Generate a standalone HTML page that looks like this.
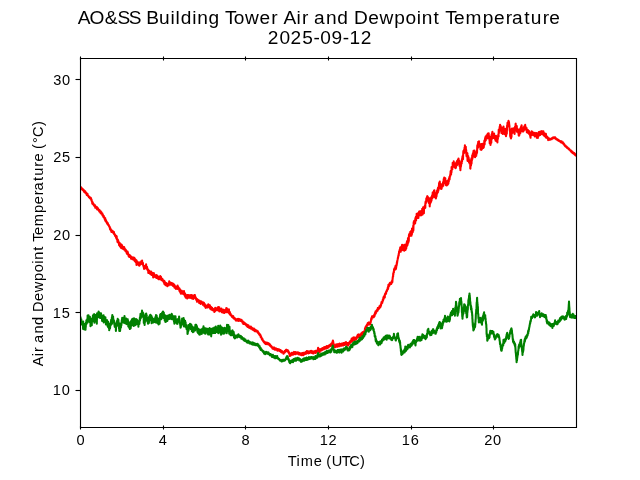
<!DOCTYPE html>
<html><head><meta charset="utf-8"><title>AO&amp;SS Building Tower Air and Dewpoint Temperature</title><style>html,body{margin:0;padding:0;background:#fff;width:640px;height:480px;overflow:hidden}svg{display:block;will-change:transform}</style></head><body>
<svg width="640" height="480" viewBox="0 0 640 480">
<rect width="640" height="480" fill="#fff"/>
<defs><clipPath id="c"><rect x="80" y="57.6" width="496" height="369.6"/></clipPath></defs>
<g clip-path="url(#c)" fill="none" stroke-width="2.08" stroke-linejoin="round" stroke-linecap="square">
<polyline stroke="#ff0000" points="80,189.08 80.1,187.98 80.2,188.04 80.3,187.78 80.4,188.76 80.5,187.19 80.6,189.23 80.7,187.99 80.8,188.55 80.9,188.28 81,189.15 81.1,187.4 81.2,188.28 81.3,188.27 81.4,189.04 81.5,187.94 81.6,188.41 81.7,188.15 81.8,188.71 81.9,189.07 82,188.32 82.1,189.53 82.2,189.5 82.3,189.4 82.4,189.69 82.5,188.99 82.6,189.36 82.7,189.05 82.8,189.47 82.9,189.96 83,189.44 83.1,189.68 83.2,189.63 83.3,189.64 83.4,189.82 83.5,190.24 83.6,189.78 83.7,190.55 83.8,191.36 83.9,190.99 84,190.61 84.1,190.36 84.2,190.52 84.3,191.83 84.4,191.1 84.5,190.85 84.6,191.36 84.7,192.41 84.8,191.51 84.9,191.85 85,191.78 85.1,191.55 85.2,191.24 85.3,191.73 85.4,191.9 85.5,192.43 85.6,192.69 85.7,192.88 85.8,192.69 85.9,193.13 86,192.45 86.1,193.59 86.2,193.35 86.3,193.08 86.4,193.62 86.5,193.47 86.6,194.21 86.7,194.54 86.8,195.01 86.9,193.36 87,193.47 87.1,194.08 87.2,194.55 87.3,195.04 87.4,194.9 87.5,193.87 87.6,194.86 87.7,195.57 87.8,195.41 87.9,195.81 88,195.45 88.1,195.6 88.2,195.93 88.3,196.18 88.4,196.21 88.5,196.31 88.6,196.01 88.7,196.64 88.8,196.61 88.9,197.21 89,197.35 89.1,196.94 89.2,196.76 89.3,196.73 89.4,197.36 89.5,197.29 89.6,197.18 89.7,197.47 89.8,197.24 89.9,198 90,197.53 90.1,198.46 90.2,198.15 90.3,198.35 90.4,197.6 90.5,198.33 90.6,198.72 90.7,197.97 90.8,198.42 90.9,198.67 91,198.06 91.1,199.21 91.2,199.77 91.3,199.22 91.4,200.13 91.5,199.59 91.6,200.53 91.7,200.04 91.8,201.71 91.9,201.65 92,201.74 92.1,201.66 92.2,202.99 92.3,203.56 92.4,201.8 92.5,203.49 92.6,203.84 92.7,203.34 92.8,202.73 92.9,203.91 93,203.53 93.1,203.47 93.2,203.31 93.3,204.35 93.4,204.62 93.5,204.06 93.6,204.79 93.7,204.1 93.8,205.23 93.9,205 94,205.03 94.1,205.22 94.2,205.86 94.3,205.95 94.4,205.99 94.5,205.94 94.6,206.06 94.7,206.48 94.8,206.41 94.9,206.71 95,206.29 95.1,205.31 95.2,207.13 95.3,207.78 95.4,206.99 95.5,206.8 95.6,206.86 95.7,206.94 95.8,207.09 95.9,206.6 96,206.98 96.1,206.82 96.2,207.53 96.3,207.33 96.4,207.81 96.5,207.55 96.6,208.21 96.7,207.9 96.8,208.97 96.9,207.01 97,207.71 97.1,208.57 97.2,209.46 97.3,208.15 97.4,208.38 97.5,208.32 97.6,209.18 97.7,208.45 97.8,209.01 97.9,208.59 98,208.24 98.1,209.16 98.2,209.38 98.3,209.9 98.4,209.32 98.5,209.2 98.6,209.91 98.7,209.88 98.8,210.02 98.9,209.97 99,210.72 99.1,210.45 99.2,211.34 99.3,211.07 99.4,210.97 99.5,209.95 99.6,211.19 99.7,211.23 99.8,211.55 99.9,211.79 100,211.2 100.1,211.93 100.2,211.37 100.3,212.75 100.4,211.23 100.5,211.12 100.6,211.27 100.7,211.75 100.8,211.74 100.9,213.38 101,212.34 101.1,211.93 101.2,213.26 101.3,212.51 101.4,212.28 101.5,213.44 101.6,213.41 101.7,212.98 101.8,214 101.9,213.46 102,214.31 102.1,213.85 102.2,214.48 102.3,213.9 102.4,213.44 102.5,215.47 102.6,214.18 102.7,214.55 102.8,214.5 102.9,214.95 103,215.37 103.1,215.55 103.2,215.98 103.3,216.75 103.4,215.99 103.5,215.63 103.6,215.86 103.7,216.32 103.8,216.01 103.9,217.46 104,217 104.1,217.29 104.2,217.65 104.3,217.15 104.4,217.62 104.5,218.59 104.6,218.76 104.7,218.43 104.8,219.74 104.9,218.35 105,218.99 105.1,219.22 105.2,218.1 105.3,220.64 105.4,220.02 105.5,219.48 105.6,221.19 105.7,220.63 105.8,220.71 105.9,220.36 106,220.89 106.1,220.24 106.2,221.56 106.3,221.15 106.4,221.57 106.5,222.27 106.6,221.98 106.7,222.13 106.8,222.3 106.9,221.97 107,222.92 107.1,223.44 107.2,223.21 107.3,223.44 107.4,222.73 107.5,222.9 107.6,222.78 107.7,224.28 107.8,223.71 107.9,224.7 108,223.78 108.1,224.11 108.2,224.55 108.3,225.13 108.4,224.86 108.5,225.11 108.6,225.21 108.7,225.49 108.8,225.04 108.9,225.84 109,225.91 109.1,226.17 109.2,226.65 109.3,226.26 109.4,226.76 109.5,226.85 109.6,227.41 109.7,227.79 109.8,227.12 109.9,228.09 110,229.03 110.1,227.46 110.2,227.98 110.3,228.16 110.4,228.66 110.5,229.81 110.6,229.21 110.7,229.05 110.8,229.91 110.9,229.5 111,230.56 111.1,230.25 111.2,230.89 111.3,229.97 111.4,231.92 111.5,230.91 111.6,230.93 111.7,230.67 111.8,230.44 111.9,230.47 112,230.93 112.1,230.7 112.2,231.34 112.3,230.89 112.4,231.71 112.5,231.98 112.6,231.25 112.7,232.3 112.8,231.68 112.9,232.48 113,232.22 113.1,232.66 113.2,231.7 113.3,232.25 113.4,233.13 113.5,232.19 113.6,231.66 113.7,231.88 113.8,231.77 113.9,232.15 114,233.17 114.1,234.2 114.2,233.51 114.3,234.07 114.4,234.03 114.5,234.26 114.6,234.34 114.7,234.51 114.8,235.06 114.9,234.23 115,235.79 115.1,235.92 115.2,235.36 115.3,236.23 115.4,235.34 115.5,235.62 115.6,236.31 115.7,236.22 115.8,236.19 115.9,236.19 116,236.45 116.1,237.87 116.2,235.79 116.3,237.84 116.4,237.59 116.5,238.59 116.6,238.64 116.7,236.22 116.8,239.14 116.9,239.15 117,239.13 117.1,238.96 117.2,240.23 117.3,239.44 117.4,241.46 117.5,240.67 117.6,242.15 117.7,240.03 117.8,239.47 117.9,241.67 118,242 118.1,241.57 118.2,240.53 118.3,241.62 118.4,242.7 118.5,242.28 118.6,242.55 118.7,242.73 118.8,242.34 118.9,242.88 119,242.39 119.1,245.16 119.2,243.5 119.3,244.4 119.4,243.33 119.5,244.91 119.6,242.91 119.7,245.28 119.8,244.64 119.9,246.49 120,243.89 120.1,245.13 120.2,245.49 120.3,246.32 120.4,245.12 120.5,245.66 120.6,244.01 120.7,245.19 120.8,246.35 120.9,247 121,246.02 121.1,247.95 121.2,247.76 121.3,246.35 121.4,244.52 121.5,245.08 121.6,245.93 121.7,247.49 121.8,246.9 121.9,245.02 122,246.57 122.1,248.09 122.2,246.55 122.3,246.3 122.4,248.59 122.5,247.04 122.6,246.67 122.7,247.38 122.8,247.16 122.9,246.86 123,248.22 123.1,248.19 123.2,248.02 123.3,247.32 123.4,248.37 123.5,247.46 123.6,248.01 123.7,248.59 123.8,248.55 123.9,249.47 124,248.53 124.1,246.95 124.2,247.51 124.3,249.65 124.4,248.43 124.5,249.14 124.6,248.29 124.7,249.9 124.8,248.93 124.9,250.53 125,249.07 125.1,250.53 125.2,250.31 125.3,249.32 125.4,250.91 125.5,249.45 125.6,249.64 125.7,251.01 125.8,250.07 125.9,250.22 126,250.56 126.1,250.17 126.2,251.94 126.3,251.72 126.4,251.31 126.5,251.41 126.6,251.99 126.7,253.18 126.8,252.6 126.9,251.63 127,252.79 127.1,252.2 127.2,252.27 127.3,254.08 127.4,252.43 127.5,252.56 127.6,251.55 127.7,252.17 127.8,253.83 127.9,253.09 128,254.23 128.1,253.1 128.2,253.56 128.3,254.89 128.4,255.69 128.5,255.17 128.6,255.83 128.7,256.42 128.8,256.06 128.9,254.67 129,255.5 129.1,256.26 129.2,255.6 129.3,256.47 129.4,255.02 129.5,255.8 129.6,257.06 129.7,255.02 129.8,256.03 129.9,256.94 130,255.62 130.1,257.08 130.2,256.43 130.3,256.88 130.4,256.94 130.5,257.34 130.6,256.77 130.7,257.33 130.8,256.82 130.9,257.78 131,258.73 131.1,257.57 131.2,257.59 131.3,256.56 131.4,258.08 131.5,256.96 131.6,256.96 131.7,258.09 131.8,257.83 131.9,258.6 132,258.91 132.1,257.36 132.2,257.94 132.3,259.28 132.4,258.68 132.5,258.52 132.6,259.03 132.7,257.54 132.8,258.57 132.9,259.23 133,259.5 133.1,257.66 133.2,258.2 133.3,258.81 133.4,258.38 133.5,258.4 133.6,259.36 133.7,258.63 133.8,257.58 133.9,259.41 134,258.88 134.1,258.73 134.2,258.17 134.3,260.33 134.4,257.84 134.5,258.37 134.6,259.61 134.7,260.91 134.8,261.08 134.9,259.21 135,260.09 135.1,259.13 135.2,261.25 135.3,259.36 135.4,260.53 135.5,261.57 135.6,260.67 135.7,262.12 135.8,260.35 135.9,261.44 136,261.93 136.1,261.24 136.2,262.56 136.3,261.99 136.4,260.35 136.5,264.92 136.6,262.38 136.7,262.05 136.8,260.94 136.9,262.23 137,261.9 137.1,262.88 137.2,262.77 137.3,264.05 137.4,262.79 137.5,263.18 137.6,263.17 137.7,262.86 137.8,262.93 137.9,264.06 138,263.91 138.1,262.88 138.2,262.59 138.3,263.53 138.4,264.62 138.5,263.77 138.6,265.29 138.7,263.37 138.8,264.21 138.9,262.18 139,263.82 139.1,264.15 139.2,264.73 139.3,265.61 139.4,264.19 139.5,265.25 139.6,264.53 139.7,264.71 139.8,263.47 139.9,264.87 140,262.83 140.1,264 140.2,262.77 140.3,263.03 140.4,262.2 140.5,262.88 140.6,263.49 140.7,263.08 140.8,261.97 140.9,264.15 141,263.16 141.1,263.62 141.2,263.36 141.3,262.12 141.4,261.02 141.5,261.76 141.6,263.4 141.7,261.49 141.8,262.91 141.9,261.69 142,262.41 142.1,260.56 142.2,262.87 142.3,262.04 142.4,263.11 142.5,262.89 142.6,263.71 142.7,263.33 142.8,264.34 142.9,262.87 143,263.55 143.1,265.33 143.2,265.05 143.3,265.24 143.4,265.61 143.5,266.49 143.6,265.95 143.7,267.17 143.8,266.36 143.9,267.1 144,268.55 144.1,268.96 144.2,267.12 144.3,268.58 144.4,266.98 144.5,268.3 144.6,266.09 144.7,266.62 144.8,267.01 144.9,267.19 145,268.36 145.1,267.85 145.2,268.29 145.3,267.9 145.4,266.61 145.5,266.52 145.6,267.49 145.7,266.57 145.8,266.32 145.9,265.28 146,266.16 146.1,264.22 146.2,266.29 146.3,266.07 146.4,267.6 146.5,266.87 146.6,267.19 146.7,268.73 146.8,267.01 146.9,268.3 147,266.73 147.1,268.52 147.2,268.98 147.3,269.54 147.4,268.33 147.5,269.51 147.6,269.7 147.7,269.63 147.8,269.97 147.9,270.42 148,270.57 148.1,269.65 148.2,269.69 148.3,272.85 148.4,272.59 148.5,270.14 148.6,271.69 148.7,271.92 148.8,272.1 148.9,271.7 149,270.93 149.1,271.61 149.2,271.45 149.3,272.03 149.4,271.79 149.5,271.98 149.6,272.99 149.7,273.24 149.8,271.4 149.9,272.06 150,271.88 150.1,273.57 150.2,272.63 150.3,273.92 150.4,272.46 150.5,272.95 150.6,271.94 150.7,274.14 150.8,272.89 150.9,272.08 151,272.88 151.1,271.59 151.2,273.49 151.3,273.69 151.4,273.92 151.5,274.97 151.6,273.61 151.7,274.58 151.8,274.27 151.9,273.95 152,272.53 152.1,275.03 152.2,273.95 152.3,274.44 152.4,273.46 152.5,274.75 152.6,274.66 152.7,274.65 152.8,274.56 152.9,275.56 153,275.54 153.1,275.4 153.2,277.53 153.3,274.44 153.4,274.66 153.5,274.2 153.6,275.41 153.7,274.57 153.8,273.01 153.9,274.24 154,275.32 154.1,276.12 154.2,274.12 154.3,274.92 154.4,275.35 154.5,274.93 154.6,275.98 154.7,275.61 154.8,275.92 154.9,275.13 155,276.99 155.1,275.81 155.2,276.89 155.3,275.55 155.4,276.43 155.5,275.46 155.6,275.29 155.7,275.54 155.8,276.11 155.9,276.03 156,277.48 156.1,275.41 156.2,275.54 156.3,277.85 156.4,277.06 156.5,275.15 156.6,277.13 156.7,277 156.8,275.18 156.9,276.68 157,277.04 157.1,277.72 157.2,277.98 157.3,277.37 157.4,278.21 157.5,277.34 157.6,276.85 157.7,276.87 157.8,278.14 157.9,276.22 158,278.41 158.1,277.06 158.2,277.74 158.3,278.51 158.4,279.16 158.5,276.71 158.6,277.7 158.7,278.47 158.8,278.03 158.9,279.28 159,277 159.1,279.04 159.2,278.95 159.3,278.5 159.4,279.2 159.5,277.2 159.6,278.93 159.7,277.33 159.8,278.33 159.9,277.35 160,278.12 160.1,277.95 160.2,276.01 160.3,276.92 160.4,276.83 160.5,276.85 160.6,276.58 160.7,278.8 160.8,277.63 160.9,278.85 161,277.29 161.1,277.03 161.2,278.13 161.3,277.71 161.4,280.22 161.5,278.64 161.6,279.51 161.7,278.54 161.8,278.6 161.9,278.98 162,279.43 162.1,279.97 162.2,279.33 162.3,279.02 162.4,278.85 162.5,279.79 162.6,280.45 162.7,280.49 162.8,280.25 162.9,279.93 163,280.67 163.1,281.15 163.2,280.8 163.3,281.06 163.4,280.99 163.5,281.98 163.6,281 163.7,281.6 163.8,281.87 163.9,282.23 164,282.95 164.1,282.39 164.2,282.43 164.3,280.87 164.4,282.64 164.5,284.08 164.6,281.69 164.7,281.63 164.8,282.38 164.9,283.47 165,283.17 165.1,282.47 165.2,282.92 165.3,283.88 165.4,283.69 165.5,285.19 165.6,284.15 165.7,283.73 165.8,284.04 165.9,283.37 166,282.97 166.1,283.99 166.2,284.34 166.3,282.93 166.4,283.73 166.5,283.95 166.6,284.56 166.7,284.24 166.8,284.91 166.9,284.73 167,285.6 167.1,283.48 167.2,286.28 167.3,286.1 167.4,284.95 167.5,285.37 167.6,285.27 167.7,284.14 167.8,284.8 167.9,285.23 168,284.8 168.1,285.33 168.2,284.5 168.3,284.43 168.4,283.69 168.5,283.95 168.6,283.82 168.7,285.49 168.8,284.26 168.9,283.21 169,284.26 169.1,283.73 169.2,281.38 169.3,284.15 169.4,282.46 169.5,284.11 169.6,282.81 169.7,282.36 169.8,283.86 169.9,282.21 170,282.98 170.1,283.44 170.2,283.71 170.3,283.76 170.4,283.07 170.5,282.5 170.6,284.76 170.7,282.8 170.8,284.79 170.9,283.04 171,284.4 171.1,284.39 171.2,282.75 171.3,283.94 171.4,284.32 171.5,284.33 171.6,283.68 171.7,284.14 171.8,283.64 171.9,283.08 172,284.87 172.1,283.69 172.2,285.31 172.3,284.75 172.4,283.61 172.5,284.26 172.6,284.22 172.7,283.81 172.8,284.97 172.9,284.25 173,286 173.1,285.44 173.2,284.11 173.3,284.86 173.4,284.76 173.5,283.75 173.6,285.87 173.7,286.01 173.8,286.11 173.9,285.13 174,286.48 174.1,285.58 174.2,286.62 174.3,287.44 174.4,286.23 174.5,285.1 174.6,286.11 174.7,287 174.8,287.59 174.9,285.83 175,286.71 175.1,287.17 175.2,287.46 175.3,287.96 175.4,286.6 175.5,287.14 175.6,288.41 175.7,288.04 175.8,288.21 175.9,288.88 176,288.18 176.1,288.5 176.2,287.8 176.3,286.95 176.4,286.97 176.5,288.04 176.6,287.8 176.7,287.41 176.8,288.16 176.9,287.17 177,287.95 177.1,287.82 177.2,287.14 177.3,285.95 177.4,288.93 177.5,287.99 177.6,285.58 177.7,287.35 177.8,287.98 177.9,287.46 178,288.08 178.1,286.82 178.2,287.71 178.3,287.51 178.4,287.38 178.5,287.32 178.6,287.92 178.7,288.77 178.8,287.87 178.9,288.23 179,288.94 179.1,288.98 179.2,289.65 179.3,290.18 179.4,290.9 179.5,290.04 179.6,288.57 179.7,290.6 179.8,291.2 179.9,291.03 180,291.32 180.1,289.76 180.2,292.38 180.3,291.98 180.4,291.29 180.5,291.78 180.6,291.77 180.7,292.93 180.8,292.87 180.9,293.62 181,292.9 181.1,291.28 181.2,291.22 181.3,293.23 181.4,293.56 181.5,292.1 181.6,292.71 181.7,291.04 181.8,290.67 181.9,291.27 182,291.9 182.1,291.75 182.2,291.97 182.3,291.74 182.4,292.66 182.5,293.24 182.6,292.1 182.7,293.68 182.8,291.53 182.9,291.6 183,292.31 183.1,291.69 183.2,292.9 183.3,291.43 183.4,292.98 183.5,292.06 183.6,294.15 183.7,291.93 183.8,292.34 183.9,292.82 184,291.16 184.1,293.58 184.2,293.68 184.3,293.59 184.4,292.46 184.5,292.66 184.6,294.57 184.7,295.24 184.8,295.78 184.9,293.98 185,294.08 185.1,294.88 185.2,293.72 185.3,295.03 185.4,296.38 185.5,297.21 185.6,296.32 185.7,297.61 185.8,296.83 185.9,296.85 186,296.76 186.1,297.03 186.2,296.66 186.3,296.74 186.4,296.3 186.5,297.02 186.6,296.81 186.7,295.6 186.8,296.57 186.9,296.06 187,295.09 187.1,297.1 187.2,297.94 187.3,298.57 187.4,297.91 187.5,295.94 187.6,297.56 187.7,297.5 187.8,295 187.9,297.26 188,297.06 188.1,296.67 188.2,296.75 188.3,296.55 188.4,297.79 188.5,296.15 188.6,296.29 188.7,296.44 188.8,296.64 188.9,294.99 189,297.49 189.1,296.54 189.2,296.8 189.3,296.49 189.4,296.16 189.5,296.01 189.6,296.35 189.7,296.38 189.8,297.19 189.9,296.59 190,296.24 190.1,297.98 190.2,295.41 190.3,295.4 190.4,296.79 190.5,296.38 190.6,295.17 190.7,296.38 190.8,296.1 190.9,297.61 191,296.25 191.1,297.63 191.2,297.19 191.3,296.7 191.4,296.92 191.5,297.29 191.6,295.14 191.7,297.29 191.8,296.76 191.9,298.54 192,296.59 192.1,298.1 192.2,295.21 192.3,297.91 192.4,297.52 192.5,297.14 192.6,297.28 192.7,297.21 192.8,297.8 192.9,297.39 193,295.97 193.1,297.15 193.2,298.98 193.3,297.13 193.4,297.22 193.5,296.53 193.6,296.92 193.7,296.82 193.8,296.37 193.9,297.16 194,295.63 194.1,296.16 194.2,296.57 194.3,295.85 194.4,294.98 194.5,296.3 194.6,294.97 194.7,295.29 194.8,295.06 194.9,295.87 195,295.85 195.1,296.05 195.2,297.22 195.3,298.32 195.4,296.86 195.5,297.8 195.6,297.34 195.7,297.94 195.8,299 195.9,298.38 196,297.92 196.1,298.23 196.2,298.56 196.3,299.28 196.4,300.21 196.5,298.68 196.6,299.17 196.7,299.32 196.8,298.72 196.9,301.24 197,300.21 197.1,301.82 197.2,299.22 197.3,301.46 197.4,299.92 197.5,300.22 197.6,299.81 197.7,299.9 197.8,299.66 197.9,300.96 198,299.79 198.1,300.71 198.2,300.96 198.3,301.56 198.4,301.17 198.5,301.4 198.6,301.62 198.7,301.25 198.8,301.62 198.9,300.6 199,300.83 199.1,303.03 199.2,301.56 199.3,301.06 199.4,302.79 199.5,301.62 199.6,301.29 199.7,300.71 199.8,302.53 199.9,301.06 200,301.52 200.1,302.48 200.2,302.13 200.3,301.94 200.4,301.85 200.5,302.96 200.6,303.85 200.7,301.64 200.8,302.56 200.9,303.66 201,303 201.1,301.61 201.2,301.83 201.3,301.72 201.4,301.48 201.5,301.73 201.6,302.46 201.7,301.8 201.8,302.99 201.9,302.41 202,302.01 202.1,303.06 202.2,302.62 202.3,302.6 202.4,303.24 202.5,302.88 202.6,302.36 202.7,303.21 202.8,302.73 202.9,304.83 203,303.52 203.1,303.71 203.2,303.96 203.3,303.13 203.4,304.26 203.5,303.37 203.6,302.83 203.7,303.18 203.8,304.2 203.9,302.67 204,304.23 204.1,303.62 204.2,304.92 204.3,303.89 204.4,306.13 204.5,305.39 204.6,303.9 204.7,306.46 204.8,305.01 204.9,304.76 205,304.66 205.1,306.08 205.2,306.97 205.3,305.44 205.4,305.25 205.5,305.28 205.6,307.53 205.7,307.81 205.8,306.34 205.9,307.19 206,306.9 206.1,306.8 206.2,307.57 206.3,307.1 206.4,306.96 206.5,306.41 206.6,307.24 206.7,306.31 206.8,306.52 206.9,306.61 207,305.42 207.1,306.09 207.2,306.03 207.3,306.3 207.4,305.28 207.5,305.17 207.6,307.37 207.7,306.94 207.8,306.68 207.9,307.37 208,306.2 208.1,305.74 208.2,306.14 208.3,304.2 208.4,304.77 208.5,306.21 208.6,305.73 208.7,304.78 208.8,306.43 208.9,306.81 209,306.64 209.1,306.19 209.2,305.64 209.3,306.5 209.4,306.86 209.5,306.33 209.6,307.2 209.7,307.07 209.8,307.19 209.9,305.4 210,307.99 210.1,308.61 210.2,307.01 210.3,306.25 210.4,308.04 210.5,307.26 210.6,306.96 210.7,308.81 210.8,306.83 210.9,308.61 211,307.14 211.1,309.41 211.2,308.76 211.3,308.24 211.4,308.67 211.5,309.11 211.6,309.41 211.7,309.45 211.8,309.27 211.9,308.49 212,309.44 212.1,307.9 212.2,309.79 212.3,309.73 212.4,310.18 212.5,308.64 212.6,309.3 212.7,309.87 212.8,309.48 212.9,308.92 213,309.55 213.1,309.4 213.2,310.18 213.3,308.92 213.4,309.74 213.5,309.74 213.6,310.15 213.7,309.53 213.8,309.72 213.9,309.61 214,309.73 214.1,309.75 214.2,309.52 214.3,312.08 214.4,309.19 214.5,308.96 214.6,309.3 214.7,309.41 214.8,309.99 214.9,311.09 215,311.25 215.1,310.05 215.2,307.82 215.3,310.09 215.4,308.69 215.5,309.3 215.6,308.74 215.7,309.96 215.8,309.08 215.9,310.16 216,309.89 216.1,309.27 216.2,309.49 216.3,310.12 216.4,309.05 216.5,310.04 216.6,309.25 216.7,309.44 216.8,309.83 216.9,310.21 217,309.52 217.1,309.11 217.2,309.6 217.3,307.75 217.4,310.26 217.5,307.85 217.6,309.59 217.7,308.38 217.8,309.2 217.9,308.66 218,309.03 218.1,308.19 218.2,307.14 218.3,309.24 218.4,308.47 218.5,308.47 218.6,308.45 218.7,310.66 218.8,308.65 218.9,309.41 219,308.27 219.1,310.45 219.2,308.83 219.3,307.23 219.4,311.52 219.5,308.52 219.6,310.48 219.7,310.06 219.8,310.04 219.9,309.37 220,309.75 220.1,310.62 220.2,309.44 220.3,309.92 220.4,310.5 220.5,309.87 220.6,309.5 220.7,311.04 220.8,310.19 220.9,309.86 221,309.38 221.1,309.24 221.2,310.8 221.3,310.88 221.4,308.42 221.5,309.71 221.6,311.01 221.7,312.22 221.8,312.04 221.9,311.12 222,311.5 222.1,310.02 222.2,311.1 222.3,309.53 222.4,310.12 222.5,310.86 222.6,312.38 222.7,311.28 222.8,310.94 222.9,310.63 223,309.75 223.1,311.33 223.2,310.61 223.3,311.12 223.4,310.26 223.5,311.11 223.6,309.82 223.7,311.49 223.8,312.18 223.9,311.9 224,312.9 224.1,311.51 224.2,311.62 224.3,311.6 224.4,310.46 224.5,312.85 224.6,311.89 224.7,310.87 224.8,310.32 224.9,311.47 225,311.66 225.1,311.06 225.2,311.07 225.3,310.74 225.4,310.86 225.5,311.9 225.6,311.92 225.7,309.57 225.8,310.85 225.9,309.74 226,309.61 226.1,311.12 226.2,309.94 226.3,308.06 226.4,311.07 226.5,311.55 226.6,312.13 226.7,310.15 226.8,311.59 226.9,308.31 227,309.54 227.1,310.76 227.2,310.69 227.3,311.4 227.4,311.18 227.5,310.43 227.6,311.8 227.7,311.2 227.8,312.1 227.9,310.16 228,311.13 228.1,310.62 228.2,311.69 228.3,310.94 228.4,311 228.5,310.21 228.6,311.6 228.7,312.32 228.8,312.32 228.9,309.17 229,310.37 229.1,313.35 229.2,311.67 229.3,311.78 229.4,312.99 229.5,312.43 229.6,312.01 229.7,312.51 229.8,314.14 229.9,312.12 230,314.05 230.1,313.22 230.2,313.44 230.3,314.85 230.4,313.63 230.5,314.6 230.6,314.18 230.7,313.87 230.8,314.66 230.9,315.45 231,315.03 231.1,315.55 231.2,315.58 231.3,315.7 231.4,315.68 231.5,316.12 231.6,315.34 231.7,316.11 231.8,315.57 231.9,316.57 232,316.67 232.1,316.22 232.2,317.01 232.3,316.89 232.4,316.91 232.5,316.68 232.6,317.12 232.7,317.45 232.8,316.74 232.9,316.74 233,317.71 233.1,316.19 233.2,316.12 233.3,316.55 233.4,317.52 233.5,317.57 233.6,317.82 233.7,317.73 233.8,318.49 233.9,318.61 234,318.52 234.1,317.58 234.2,318.36 234.3,317.91 234.4,318.17 234.5,318.04 234.6,318.6 234.7,318.94 234.8,318.84 234.9,318.36 235,318.31 235.1,318.76 235.2,318.85 235.3,319.65 235.4,319.26 235.5,319.42 235.6,319.53 235.7,320.19 235.8,320.54 235.9,320.09 236,319.89 236.1,320.63 236.2,320.2 236.3,319.81 236.4,320.45 236.5,320.09 236.6,319.35 236.7,320.28 236.8,320.13 236.9,319.16 237,319.03 237.1,320.06 237.2,320.31 237.3,320.27 237.4,319.39 237.5,319.84 237.6,320.3 237.7,319.31 237.8,320.04 237.9,320.1 238,320.42 238.1,318.9 238.2,320.07 238.3,320.91 238.4,319.72 238.5,319.86 238.6,320.43 238.7,319.66 238.8,320.52 238.9,320.24 239,319.29 239.1,320.05 239.2,319.34 239.3,320.43 239.4,319.24 239.5,319.18 239.6,319.49 239.7,319.64 239.8,320.59 239.9,319.99 240,320.13 240.1,320.48 240.2,319.69 240.3,319.74 240.4,319.62 240.5,320.43 240.6,320.9 240.7,320.36 240.8,320.04 240.9,320.17 241,319.98 241.1,320.89 241.2,320.17 241.3,320.61 241.4,320.28 241.5,320.03 241.6,319.82 241.7,320.65 241.8,321.23 241.9,321.07 242,321.19 242.1,320.89 242.2,321.03 242.3,321.05 242.4,321.71 242.5,322.61 242.6,321.71 242.7,321.24 242.8,322.51 242.9,321.57 243,322.35 243.1,321.98 243.2,322.29 243.3,323.88 243.4,322.08 243.5,322.24 243.6,322.75 243.7,322.66 243.8,322.57 243.9,322.52 244,323.18 244.1,323.48 244.2,322.65 244.3,322.65 244.4,324.07 244.5,322.69 244.6,323.73 244.7,323.69 244.8,323.08 244.9,324 245,323.24 245.1,323.33 245.2,323.28 245.3,324.36 245.4,323.87 245.5,324.64 245.6,323.87 245.7,324.6 245.8,325.03 245.9,324.45 246,324.06 246.1,324.5 246.2,325.3 246.3,325.15 246.4,324.72 246.5,324.2 246.6,325.38 246.7,325.88 246.8,325.97 246.9,325.51 247,325.31 247.1,325.12 247.2,325.3 247.3,324.89 247.4,326.66 247.5,325.75 247.6,326.89 247.7,325.85 247.8,325.22 247.9,326.85 248,325.69 248.1,325.94 248.2,326.94 248.3,326.92 248.4,325.41 248.5,326.39 248.6,325.96 248.7,326.76 248.8,327.39 248.9,326.41 249,327.37 249.1,326.35 249.2,327.81 249.3,326.52 249.4,326.75 249.5,327.15 249.6,326.45 249.7,327.84 249.8,326.72 249.9,327.55 250,326.75 250.1,327.44 250.2,327.45 250.3,327.35 250.4,327.8 250.5,327.14 250.6,328.4 250.7,327.86 250.8,326.58 250.9,328.8 251,328.17 251.1,328.72 251.2,328.01 251.3,327.13 251.4,328.03 251.5,327.73 251.6,328.32 251.7,328.19 251.8,328.56 251.9,327.74 252,328.62 252.1,328.45 252.2,329 252.3,328.02 252.4,328.64 252.5,329.64 252.6,328.41 252.7,329.33 252.8,329.66 252.9,329.11 253,329.61 253.1,329.69 253.2,329.99 253.3,329.17 253.4,329.34 253.5,329.81 253.6,329.17 253.7,329.58 253.8,329.3 253.9,328.62 254,329.88 254.1,330.55 254.2,329.67 254.3,329.93 254.4,329.74 254.5,329.67 254.6,330.12 254.7,330.6 254.8,331.17 254.9,330.6 255,329.85 255.1,329.7 255.2,330.98 255.3,330.59 255.4,330.23 255.5,330.09 255.6,330.25 255.7,331.23 255.8,330.72 255.9,330.15 256,331.23 256.1,331.04 256.2,330.82 256.3,331.28 256.4,330.69 256.5,331.55 256.6,330.53 256.7,330.82 256.8,330.67 256.9,331.16 257,331.06 257.1,331.29 257.2,331.51 257.3,331.81 257.4,331.69 257.5,331.79 257.6,332.45 257.7,331.67 257.8,331.19 257.9,332.33 258,332.86 258.1,332.25 258.2,332.68 258.3,332.15 258.4,332.66 258.5,333 258.6,333.02 258.7,332.74 258.8,333.85 258.9,333.33 259,333.81 259.1,333.7 259.2,334.05 259.3,334.21 259.4,333.83 259.5,334.44 259.6,335.17 259.7,335.23 259.8,334.84 259.9,335.45 260,334.3 260.1,335.75 260.2,335.32 260.3,334.68 260.4,335.75 260.5,336.32 260.6,335.76 260.7,337.14 260.8,337.07 260.9,336.09 261,337.31 261.1,337.11 261.2,337.01 261.3,337.31 261.4,337.45 261.5,337.3 261.6,337.84 261.7,338.55 261.8,339.08 261.9,339.29 262,338.57 262.1,338.97 262.2,338.84 262.3,339.88 262.4,338.87 262.5,339.2 262.6,339.72 262.7,340.32 262.8,340.26 262.9,340.61 263,340.72 263.1,340.9 263.2,340.43 263.3,340.85 263.4,341.36 263.5,341.33 263.6,341.79 263.7,341.06 263.8,341.91 263.9,342.26 264,341.64 264.1,341.92 264.2,342 264.3,342.24 264.4,342.27 264.5,342.86 264.6,342.53 264.7,342.79 264.8,342.65 264.9,342.13 265,342.9 265.1,342.7 265.2,342.61 265.3,342.6 265.4,343.07 265.5,342.85 265.6,344.06 265.7,343.88 265.8,343.06 265.9,343.52 266,343.75 266.1,343.17 266.2,344.1 266.3,343.7 266.4,343.26 266.5,342.52 266.6,342.92 266.7,343.52 266.8,343.2 266.9,343.41 267,343.08 267.1,343.57 267.2,343.27 267.3,342.8 267.4,343.37 267.5,343.28 267.6,342.86 267.7,344.22 267.8,343.57 267.9,343.48 268,343.98 268.1,343.63 268.2,344.03 268.3,343.04 268.4,343.26 268.5,344 268.6,344.52 268.7,343.96 268.8,344.15 268.9,343.78 269,344.24 269.1,344.03 269.2,344.38 269.3,344.88 269.4,343.75 269.5,344.85 269.6,344.49 269.7,344.66 269.8,345.56 269.9,345.28 270,345.67 270.1,344.56 270.2,345.27 270.3,345.35 270.4,345.38 270.5,345.95 270.6,346.25 270.7,345.45 270.8,345.62 270.9,345.59 271,346.77 271.1,346.12 271.2,346.4 271.3,346.4 271.4,346.22 271.5,346.92 271.6,347.02 271.7,347.37 271.8,346.95 271.9,347.02 272,346.99 272.1,348.02 272.2,347.9 272.3,347.51 272.4,347.87 272.5,347.36 272.6,348.6 272.7,347.46 272.8,347.61 272.9,347.66 273,348.65 273.1,348 273.2,348.47 273.3,347.98 273.4,347.54 273.5,348.48 273.6,347.9 273.7,347.64 273.8,348.1 273.9,348.62 274,349.18 274.1,347.81 274.2,347.5 274.3,348.96 274.4,348.72 274.5,348.39 274.6,348.88 274.7,349.07 274.8,349.65 274.9,348.78 275,349.47 275.1,348.74 275.2,348.77 275.3,349.24 275.4,348.59 275.5,348.56 275.6,349.63 275.7,348.36 275.8,349.35 275.9,349.2 276,349.23 276.1,348.82 276.2,348.52 276.3,349.16 276.4,348.95 276.5,349.31 276.6,349.56 276.7,349.2 276.8,349.07 276.9,349.7 277,349.25 277.1,349.18 277.2,349.5 277.3,349.78 277.4,350.62 277.5,350.42 277.6,349.14 277.7,349.13 277.8,349.78 277.9,350.02 278,349.73 278.1,350.78 278.2,350.36 278.3,350.58 278.4,349.68 278.5,349.48 278.6,349.42 278.7,349.87 278.8,349.38 278.9,349.68 279,349.79 279.1,350.42 279.2,349.86 279.3,349.51 279.4,350.01 279.5,350.37 279.6,350.6 279.7,350.01 279.8,350.78 279.9,351.19 280,350.85 280.1,350.81 280.2,350.57 280.3,350.57 280.4,350 280.5,351.26 280.6,350.9 280.7,351.2 280.8,351.42 280.9,350.91 281,351.8 281.1,351.46 281.2,352.15 281.3,351.63 281.4,351.76 281.5,351.57 281.6,352.43 281.7,350.89 281.8,351.66 281.9,351.84 282,351.35 282.1,351.76 282.2,351.21 282.3,352.34 282.4,351.69 282.5,352.56 282.6,352.35 282.7,352.16 282.8,351.91 282.9,352.37 283,352.89 283.1,352.76 283.2,353.19 283.3,352.6 283.4,353.75 283.5,352.99 283.6,352.61 283.7,353.48 283.8,353.4 283.9,352.64 284,352.36 284.1,352.88 284.2,351.96 284.3,352.68 284.4,351.52 284.5,352.01 284.6,351.95 284.7,352.42 284.8,350.85 284.9,351.74 285,351.47 285.1,351.42 285.2,350.86 285.3,350.54 285.4,350.86 285.5,350.87 285.6,351.73 285.7,350.95 285.8,350.83 285.9,351.16 286,349.83 286.1,351.05 286.2,351.1 286.3,351.04 286.4,350.3 286.5,349.75 286.6,349.83 286.7,350.45 286.8,350.55 286.9,350.9 287,350.98 287.1,350.56 287.2,350.05 287.3,350.23 287.4,350.13 287.5,351.01 287.6,350.93 287.7,350.89 287.8,350.25 287.9,351.69 288,350.45 288.1,352.13 288.2,352.17 288.3,350.93 288.4,351.94 288.5,351.46 288.6,352.23 288.7,352.79 288.8,352.58 288.9,352.08 289,353.14 289.1,353.41 289.2,353.52 289.3,353.23 289.4,353.87 289.5,354.48 289.6,354.51 289.7,356.03 289.8,355.12 289.9,354.81 290,355.14 290.1,354.21 290.2,355 290.3,355.61 290.4,354.18 290.5,354.78 290.6,354.99 290.7,353.59 290.8,355.37 290.9,353.84 291,354.18 291.1,354.53 291.2,354.14 291.3,354.66 291.4,354.25 291.5,354.43 291.6,354.1 291.7,354.82 291.8,352.85 291.9,354.11 292,353.69 292.1,353.28 292.2,353.31 292.3,353.39 292.4,353.98 292.5,353.11 292.6,353.47 292.7,353.66 292.8,352.82 292.9,354.02 293,354.69 293.1,352.93 293.2,353.76 293.3,353.03 293.4,353.44 293.5,353 293.6,354.31 293.7,352.92 293.8,353.54 293.9,353.43 294,352.5 294.1,351.91 294.2,353.42 294.3,353.56 294.4,352.8 294.5,352.75 294.6,353.64 294.7,353.57 294.8,353.63 294.9,353.24 295,352.67 295.1,352.43 295.2,352 295.3,353.07 295.4,354.16 295.5,353.36 295.6,353.06 295.7,352.26 295.8,352.73 295.9,353.1 296,352.98 296.1,353.6 296.2,353.01 296.3,353.48 296.4,353.04 296.5,353 296.6,353.79 296.7,352.69 296.8,352.94 296.9,352.39 297,353.15 297.1,353.69 297.2,353.47 297.3,353.5 297.4,353.68 297.5,353.44 297.6,353.52 297.7,353.32 297.8,352.56 297.9,353.39 298,353.66 298.1,352.69 298.2,353.36 298.3,353.86 298.4,353.1 298.5,352.63 298.6,353.43 298.7,354.31 298.8,352.98 298.9,353.46 299,353.15 299.1,353.41 299.2,353.77 299.3,354.5 299.4,353.33 299.5,353.38 299.6,353.33 299.7,353.25 299.8,353.05 299.9,353.47 300,353.92 300.1,354.05 300.2,354.71 300.3,353.65 300.4,353.72 300.5,353.77 300.6,354.34 300.7,354.19 300.8,354.74 300.9,353.92 301,354.9 301.1,354.89 301.2,354.19 301.3,353.96 301.4,354.37 301.5,353.8 301.6,355.3 301.7,354.25 301.8,354.58 301.9,353.41 302,353.11 302.1,354.42 302.2,354.29 302.3,353.56 302.4,353.63 302.5,353.54 302.6,354.01 302.7,354.36 302.8,352.97 302.9,354.05 303,353.27 303.1,353.43 303.2,353.6 303.3,352.9 303.4,355.18 303.5,354.92 303.6,353.97 303.7,353.88 303.8,352.92 303.9,354.77 304,353.44 304.1,353.32 304.2,354.02 304.3,353.47 304.4,352.87 304.5,353.14 304.6,353.02 304.7,353.23 304.8,353.47 304.9,353.43 305,353.82 305.1,353.07 305.2,353.58 305.3,353.97 305.4,352.33 305.5,353.37 305.6,352.37 305.7,352.1 305.8,353.78 305.9,353.51 306,353.15 306.1,352.57 306.2,353.64 306.3,352.04 306.4,352.8 306.5,353.01 306.6,353.42 306.7,351.85 306.8,350.98 306.9,352.71 307,352.79 307.1,352.69 307.2,352.09 307.3,352.52 307.4,351.68 307.5,352.73 307.6,352.97 307.7,352.05 307.8,351.33 307.9,352.33 308,352.27 308.1,352.31 308.2,353.05 308.3,352.38 308.4,353.43 308.5,352.47 308.6,351.64 308.7,352.84 308.8,352.14 308.9,351.9 309,352.29 309.1,352.18 309.2,351.23 309.3,351.6 309.4,352.68 309.5,352.12 309.6,352.35 309.7,352.53 309.8,352.93 309.9,351.57 310,351.51 310.1,351.41 310.2,351.6 310.3,351.45 310.4,351.96 310.5,351.92 310.6,352.32 310.7,351.36 310.8,351.67 310.9,352.24 311,352.44 311.1,350.8 311.2,351.76 311.3,351.97 311.4,351 311.5,352.39 311.6,352.82 311.7,351.1 311.8,351.33 311.9,352.73 312,352.84 312.1,351.54 312.2,351.71 312.3,352.63 312.4,352.15 312.5,352.01 312.6,353.19 312.7,352.5 312.8,351.35 312.9,352.5 313,351.61 313.1,352.8 313.2,352.95 313.3,352.67 313.4,352.95 313.5,353.54 313.6,352.88 313.7,352.29 313.8,351.88 313.9,352.58 314,351.86 314.1,351.61 314.2,352.12 314.3,351.37 314.4,351.6 314.5,352.56 314.6,352 314.7,352.06 314.8,352.19 314.9,351.1 315,352.25 315.1,352.12 315.2,352.07 315.3,352.25 315.4,350.84 315.5,353.06 315.6,351.81 315.7,351.16 315.8,351.98 315.9,351.2 316,351.9 316.1,352.14 316.2,351.08 316.3,352.25 316.4,351.83 316.5,351.92 316.6,351.92 316.7,351.95 316.8,352.26 316.9,352.09 317,351.85 317.1,351.14 317.2,351.69 317.3,351.19 317.4,350.28 317.5,350.63 317.6,349.72 317.7,350.42 317.8,349.35 317.9,348.97 318,348.95 318.1,347.87 318.2,348.28 318.3,349.39 318.4,348.31 318.5,348.91 318.6,349.64 318.7,350.46 318.8,350.49 318.9,350.04 319,350.49 319.1,351.83 319.2,350.97 319.3,350.36 319.4,350.33 319.5,352.56 319.6,351.14 319.7,349.4 319.8,349.95 319.9,350.5 320,349.85 320.1,350.59 320.2,350.89 320.3,349.89 320.4,350.01 320.5,349.72 320.6,350.26 320.7,350.56 320.8,350.21 320.9,349.06 321,350.03 321.1,349.26 321.2,350.51 321.3,349.77 321.4,350.05 321.5,349.42 321.6,349.37 321.7,349.59 321.8,349.3 321.9,350.15 322,348.61 322.1,349.58 322.2,348.84 322.3,349.6 322.4,348.1 322.5,349.76 322.6,348.84 322.7,348.3 322.8,349.33 322.9,348.79 323,349.01 323.1,349.5 323.2,348.18 323.3,348.34 323.4,348.75 323.5,348.98 323.6,348.25 323.7,348.16 323.8,348.98 323.9,349.06 324,349.25 324.1,348.28 324.2,346.98 324.3,348.65 324.4,348.75 324.5,347.48 324.6,348.3 324.7,348.37 324.8,348.36 324.9,347.88 325,348.15 325.1,348.38 325.2,347.02 325.3,348.45 325.4,347.7 325.5,348.27 325.6,347.41 325.7,346.81 325.8,348.35 325.9,348.55 326,346.58 326.1,346.84 326.2,347.55 326.3,346.87 326.4,347.82 326.5,346.91 326.6,347.02 326.7,347.37 326.8,346 326.9,346.97 327,348.21 327.1,347.37 327.2,346.45 327.3,347.53 327.4,348.03 327.5,347.55 327.6,346.48 327.7,346.39 327.8,346.5 327.9,346.07 328,346.62 328.1,346 328.2,346.02 328.3,346.63 328.4,346.09 328.5,346.24 328.6,347.48 328.7,346.45 328.8,346.85 328.9,346.39 329,346.43 329.1,345.31 329.2,345.7 329.3,345.81 329.4,345.65 329.5,345.73 329.6,345.89 329.7,345.62 329.8,346.11 329.9,345.5 330,346.27 330.1,345.53 330.2,345.1 330.3,344.6 330.4,344.85 330.5,345.12 330.6,346.05 330.7,344.29 330.8,345.84 330.9,344.99 331,344.41 331.1,344 331.2,345.25 331.3,343.47 331.4,344.42 331.5,344.38 331.6,344.51 331.7,344.97 331.8,344.07 331.9,344.24 332,342.96 332.1,343.51 332.2,343.56 332.3,342.54 332.4,342.71 332.5,342.18 332.6,341.52 332.7,341.38 332.8,341.31 332.9,340.46 333,341.19 333.1,342.93 333.2,341.56 333.3,344.23 333.4,342.83 333.5,344.23 333.6,344.94 333.7,344.55 333.8,345.99 333.9,344.4 334,346.17 334.1,345.82 334.2,345.79 334.3,346.78 334.4,346.63 334.5,345.39 334.6,347.2 334.7,346.89 334.8,346.24 334.9,346.25 335,347.06 335.1,347.26 335.2,346.51 335.3,345.25 335.4,346.12 335.5,346.59 335.6,345.41 335.7,345.13 335.8,345.96 335.9,346.01 336,346.18 336.1,346.75 336.2,344.34 336.3,345.92 336.4,345.69 336.5,345.82 336.6,345.91 336.7,346.49 336.8,346.14 336.9,345.69 337,345.77 337.1,345.76 337.2,345.57 337.3,346.57 337.4,344.28 337.5,344.62 337.6,346.69 337.7,345.95 337.8,345.97 337.9,346.31 338,344.07 338.1,346.46 338.2,344.62 338.3,344.72 338.4,346.11 338.5,344.55 338.6,345.71 338.7,346.31 338.8,344.83 338.9,344.85 339,345.71 339.1,345.84 339.2,345.43 339.3,344.06 339.4,346.27 339.5,345.56 339.6,343.45 339.7,344.44 339.8,344.31 339.9,344.48 340,345.18 340.1,344.48 340.2,345.81 340.3,345.7 340.4,344.96 340.5,344.14 340.6,344.86 340.7,345.12 340.8,345.62 340.9,344.46 341,344.82 341.1,344.04 341.2,344.39 341.3,345.51 341.4,345.78 341.5,344.4 341.6,344.43 341.7,344.06 341.8,343.5 341.9,344.8 342,344.85 342.1,344.92 342.2,344.49 342.3,344.82 342.4,344.54 342.5,345.27 342.6,344.63 342.7,345.35 342.8,345.05 342.9,344.51 343,343.36 343.1,344.55 343.2,344.38 343.3,345.47 343.4,344.61 343.5,343.26 343.6,343.46 343.7,344.66 343.8,343.81 343.9,343.07 344,344.22 344.1,344.19 344.2,343.73 344.3,344.38 344.4,343.67 344.5,345.01 344.6,342.9 344.7,344.27 344.8,344.3 344.9,344.45 345,343.45 345.1,343.21 345.2,344.68 345.3,343.81 345.4,342.99 345.5,343.94 345.6,344.44 345.7,343.76 345.8,342.75 345.9,343.91 346,342.11 346.1,343.7 346.2,343.8 346.3,343 346.4,343.45 346.5,343.46 346.6,343.08 346.7,342.96 346.8,343.47 346.9,343.33 347,344.93 347.1,343.02 347.2,345.34 347.3,344.01 347.4,343.74 347.5,344 347.6,343.76 347.7,343.17 347.8,345.26 347.9,344.69 348,344.31 348.1,344.09 348.2,344.47 348.3,343.84 348.4,345.49 348.5,343.11 348.6,343.63 348.7,343.54 348.8,344.35 348.9,344.06 349,343.64 349.1,343.48 349.2,343.74 349.3,342.77 349.4,343.52 349.5,342.12 349.6,343.28 349.7,342.41 349.8,343.42 349.9,341.63 350,342.03 350.1,341.63 350.2,342.72 350.3,340.94 350.4,342.41 350.5,341.97 350.6,341.9 350.7,340.89 350.8,341.56 350.9,342.31 351,340.47 351.1,340.99 351.2,340.49 351.3,339.78 351.4,339.87 351.5,340.72 351.6,340.22 351.7,338.43 351.8,340.42 351.9,339.73 352,340.49 352.1,339.3 352.2,341.26 352.3,338.89 352.4,339.99 352.5,338.6 352.6,339.39 352.7,338.35 352.8,339.93 352.9,338.94 353,339.9 353.1,338.68 353.2,337.51 353.3,337.96 353.4,338.18 353.5,339.32 353.6,340.16 353.7,338.07 353.8,338.34 353.9,339.01 354,337.37 354.1,337.97 354.2,338.69 354.3,338.49 354.4,338.21 354.5,337.61 354.6,338.39 354.7,338.85 354.8,337.87 354.9,338.45 355,339.89 355.1,338.79 355.2,338.89 355.3,337.78 355.4,338.14 355.5,338.33 355.6,337.99 355.7,337.76 355.8,337.54 355.9,338.51 356,339.27 356.1,339.14 356.2,339.21 356.3,339.29 356.4,337.84 356.5,337.76 356.6,337.88 356.7,337.21 356.8,337.81 356.9,336.97 357,338.01 357.1,336.41 357.2,337.22 357.3,337.8 357.4,335.57 357.5,335.83 357.6,335.48 357.7,335.07 357.8,335.79 357.9,335.76 358,334.69 358.1,334.64 358.2,335.24 358.3,335.35 358.4,334.42 358.5,336.87 358.6,335.17 358.7,335.46 358.8,335.02 358.9,335.35 359,334.96 359.1,336.8 359.2,334.43 359.3,335.66 359.4,336.32 359.5,334.8 359.6,336.31 359.7,336.97 359.8,336.33 359.9,336.18 360,336.23 360.1,335.89 360.2,336.32 360.3,335.15 360.4,335.82 360.5,335.18 360.6,334.85 360.7,334.28 360.8,335.4 360.9,334.34 361,335.35 361.1,334.41 361.2,334.26 361.3,333.33 361.4,333.23 361.5,334.15 361.6,333.53 361.7,333.47 361.8,333.72 361.9,333.47 362,332.89 362.1,335.2 362.2,335.4 362.3,333.55 362.4,332.27 362.5,332.69 362.6,333.75 362.7,332.98 362.8,333.36 362.9,332.05 363,333.79 363.1,334.37 363.2,332.71 363.3,333.35 363.4,333.38 363.5,331.92 363.6,333.36 363.7,333.33 363.8,332.61 363.9,332.63 364,333.08 364.1,332.81 364.2,332.46 364.3,331.49 364.4,330.98 364.5,331.32 364.6,330.6 364.7,331.27 364.8,331.02 364.9,329.53 365,328.38 365.1,329.32 365.2,328.38 365.3,329.09 365.4,328.67 365.5,327.1 365.6,328.23 365.7,328.3 365.8,327.42 365.9,327.4 366,326.43 366.1,326.02 366.2,327.32 366.3,326.44 366.4,326.03 366.5,325.87 366.6,326.27 366.7,325.41 366.8,325.04 366.9,325 367,324.92 367.1,324.52 367.2,324.75 367.3,324.16 367.4,324.01 367.5,325.55 367.6,323.99 367.7,325 367.8,322.92 367.9,323.98 368,323.28 368.1,324.28 368.2,322.84 368.3,324.49 368.4,322.89 368.5,323.38 368.6,322.63 368.7,323.49 368.8,323.43 368.9,322.87 369,322.42 369.1,324.41 369.2,324.2 369.3,323.43 369.4,323.91 369.5,323.55 369.6,324.03 369.7,324.37 369.8,324.51 369.9,323.98 370,324.25 370.1,324.4 370.2,323.21 370.3,322.92 370.4,323 370.5,322.93 370.6,321.92 370.7,322.42 370.8,321.45 370.9,320.66 371,320.83 371.1,319.39 371.2,318.76 371.3,319.92 371.4,318.07 371.5,318.39 371.6,319.29 371.7,318.46 371.8,317.27 371.9,317.49 372,316.41 372.1,316.53 372.2,317.12 372.3,317.56 372.4,317.04 372.5,316.91 372.6,316.43 372.7,316.85 372.8,317.27 372.9,317.39 373,316.77 373.1,316.53 373.2,316.6 373.3,316.64 373.4,315.84 373.5,315.83 373.6,315.54 373.7,315.48 373.8,317.15 373.9,316.29 374,315.17 374.1,315.59 374.2,315.69 374.3,315.33 374.4,314.63 374.5,316.12 374.6,314.08 374.7,315.32 374.8,314.55 374.9,313.75 375,314.01 375.1,312.63 375.2,313.92 375.3,314.04 375.4,312.96 375.5,313.35 375.6,311.19 375.7,312.37 375.8,311.61 375.9,313 376,312.29 376.1,311.93 376.2,311.63 376.3,311.4 376.4,311.92 376.5,310.44 376.6,311.63 376.7,311.27 376.8,311.31 376.9,310.14 377,310.95 377.1,310.7 377.2,310.11 377.3,310.44 377.4,309.24 377.5,309.4 377.6,310.3 377.7,310.67 377.8,308.01 377.9,309.72 378,308.08 378.1,309.01 378.2,308.36 378.3,308.81 378.4,308.36 378.5,308.75 378.6,308.83 378.7,308.03 378.8,308.65 378.9,307.88 379,308.46 379.1,308.71 379.2,307.9 379.3,307.85 379.4,306.33 379.5,306.95 379.6,306.96 379.7,307.19 379.8,306.21 379.9,306.19 380,306.94 380.1,307.05 380.2,307.33 380.3,307.38 380.4,306.49 380.5,305.6 380.6,306.08 380.7,304.77 380.8,305.22 380.9,306.06 381,305.58 381.1,304.08 381.2,304.71 381.3,303.5 381.4,303.07 381.5,302.12 381.6,303.36 381.7,302.94 381.8,303.15 381.9,302.76 382,301.74 382.1,302.31 382.2,302.77 382.3,302.82 382.4,301.5 382.5,300.92 382.6,300.74 382.7,300.28 382.8,299.57 382.9,300.83 383,300.01 383.1,299.33 383.2,300.03 383.3,299.32 383.4,297.61 383.5,299.11 383.6,297.71 383.7,296.83 383.8,297.7 383.9,297.05 384,296.51 384.1,297.9 384.2,296.6 384.3,296.28 384.4,295.91 384.5,295.57 384.6,295.75 384.7,295.15 384.8,297.41 384.9,294.17 385,294.75 385.1,294.11 385.2,293.71 385.3,293.5 385.4,293.75 385.5,294.14 385.6,294.09 385.7,293.51 385.8,292.49 385.9,293.9 386,293.56 386.1,293.31 386.2,291.51 386.3,292.04 386.4,291.87 386.5,291.55 386.6,291.3 386.7,291.05 386.8,290.22 386.9,291.05 387,290.94 387.1,290.18 387.2,289.55 387.3,289.56 387.4,289.92 387.5,288.72 387.6,289.07 387.7,287.83 387.8,288.38 387.9,286.99 388,286.85 388.1,288.88 388.2,287.28 388.3,287.73 388.4,284.85 388.5,286.32 388.6,286.13 388.7,285.63 388.8,285.89 388.9,284.95 389,286.21 389.1,285.56 389.2,284.06 389.3,284.97 389.4,284.62 389.5,285.43 389.6,284.94 389.7,283.32 389.8,283.46 389.9,284.6 390,282.89 390.1,284.13 390.2,283.14 390.3,283.87 390.4,283.79 390.5,283.58 390.6,282.7 390.7,283.15 390.8,283.88 390.9,282.8 391,283.14 391.1,283.88 391.2,283.97 391.3,283.62 391.4,282.54 391.5,282.41 391.6,282.11 391.7,281.78 391.8,281.93 391.9,280.96 392,282.25 392.1,281.55 392.2,282.44 392.3,282.01 392.4,281.59 392.5,279.41 392.6,279.13 392.7,278.12 392.8,276.88 392.9,276.84 393,276.1 393.1,276.79 393.2,273.42 393.3,275.03 393.4,273.84 393.5,273.04 393.6,272.48 393.7,272.36 393.8,271.31 393.9,272.38 394,270.2 394.1,269.07 394.2,268.93 394.3,269.05 394.4,270.21 394.5,269.38 394.6,269.86 394.7,267.92 394.8,268.36 394.9,268.65 395,268.36 395.1,268.89 395.2,269.04 395.3,267.94 395.4,266.09 395.5,267.35 395.6,267.06 395.7,268.21 395.8,269.13 395.9,267.84 396,268.77 396.1,267.24 396.2,267.3 396.3,266.24 396.4,266.05 396.5,264.38 396.6,264.31 396.7,265.09 396.8,264.19 396.9,262.1 397,263.31 397.1,262.92 397.2,261.37 397.3,261.3 397.4,260.17 397.5,260.29 397.6,259.69 397.7,258.82 397.8,258.57 397.9,257.72 398,258.13 398.1,256.74 398.2,256.99 398.3,256.48 398.4,255.28 398.5,255.1 398.6,255.14 398.7,255.43 398.8,253.57 398.9,253.47 399,252.98 399.1,251.42 399.2,252.09 399.3,252.27 399.4,251.88 399.5,250.45 399.6,250.84 399.7,249.7 399.8,250.01 399.9,250.55 400,248.82 400.1,250.01 400.2,247.46 400.3,250.54 400.4,247.28 400.5,249.11 400.6,248.87 400.7,250.31 400.8,251.68 400.9,248.65 401,248.88 401.1,247.21 401.2,249.58 401.3,250.16 401.4,250.36 401.5,247.04 401.6,247.16 401.7,249.76 401.8,249.74 401.9,245.19 402,246.98 402.1,244.84 402.2,247.78 402.3,248.21 402.4,248.46 402.5,248.54 402.6,248.79 402.7,247.65 402.8,245.53 402.9,248.12 403,248.93 403.1,245.68 403.2,246.35 403.3,249.6 403.4,250.25 403.5,247.1 403.6,245.84 403.7,246.9 403.8,246.56 403.9,247.11 404,249.03 404.1,244.92 404.2,244.73 404.3,250.71 404.4,246.59 404.5,249.58 404.6,245.03 404.7,249.09 404.8,245.68 404.9,246.32 405,245.71 405.1,248.62 405.2,246.24 405.3,246.3 405.4,248.81 405.5,249.9 405.6,247.94 405.7,247.43 405.8,247.95 405.9,249.03 406,245.9 406.1,244.55 406.2,248.53 406.3,247.64 406.4,243.44 406.5,246.23 406.6,245.36 406.7,244.39 406.8,242.51 406.9,241.87 407,242.91 407.1,243.37 407.2,245.69 407.3,240.84 407.4,244.14 407.5,242.6 407.6,243.18 407.7,244.66 407.8,240.63 407.9,241.17 408,238.12 408.1,239.31 408.2,242.33 408.3,242.69 408.4,239.58 408.5,238.92 408.6,239.36 408.7,238.79 408.8,241.39 408.9,236.17 409,234.83 409.1,235.91 409.2,234.64 409.3,236.54 409.4,236.13 409.5,233.48 409.6,235.34 409.7,234.62 409.8,235.09 409.9,233.44 410,233.48 410.1,233.32 410.2,235.61 410.3,231.78 410.4,232.47 410.5,233.31 410.6,232.97 410.7,234.68 410.8,232.36 410.9,233.2 411,232.59 411.1,231.13 411.2,231.82 411.3,232.1 411.4,230.81 411.5,235.77 411.6,232.08 411.7,233.18 411.8,233.97 411.9,234.35 412,228.5 412.1,230.11 412.2,228.84 412.3,230.07 412.4,230.13 412.5,228.33 412.6,232.07 412.7,232.18 412.8,229.07 412.9,231.02 413,230.55 413.1,229.52 413.2,225.76 413.3,230.73 413.4,229.45 413.5,224.85 413.6,224.16 413.7,222.12 413.8,224.55 413.9,223.37 414,223.85 414.1,222.24 414.2,220.73 414.3,220.93 414.4,221.2 414.5,222.1 414.6,221.28 414.7,222.54 414.8,222.14 414.9,222.28 415,221.07 415.1,223.16 415.2,223.34 415.3,219.14 415.4,218.04 415.5,220.53 415.6,220.01 415.7,220.08 415.8,217.88 415.9,216.84 416,217.89 416.1,220.48 416.2,217.32 416.3,218.49 416.4,216.51 416.5,215.93 416.6,215.95 416.7,213.67 416.8,215.97 416.9,218.18 417,216.81 417.1,215.38 417.2,216.47 417.3,216.84 417.4,217.6 417.5,215.15 417.6,216.14 417.7,216.55 417.8,217.53 417.9,213.97 418,215.29 418.1,212.95 418.2,214.29 418.3,215.96 418.4,217.91 418.5,214.89 418.6,214.55 418.7,213.55 418.8,212.9 418.9,213.56 419,215.68 419.1,211.51 419.2,214.24 419.3,213.43 419.4,212.78 419.5,214.61 419.6,212.96 419.7,212.42 419.8,213.07 419.9,211.53 420,211.28 420.1,212.46 420.2,211.83 420.3,214.79 420.4,213.23 420.5,211.5 420.6,212.99 420.7,214.1 420.8,213.81 420.9,215.42 421,211.55 421.1,214.57 421.2,212 421.3,212.56 421.4,211.06 421.5,210.69 421.6,214.88 421.7,214.89 421.8,212.39 421.9,213.1 422,212.07 422.1,214.02 422.2,208.88 422.3,213.9 422.4,208.83 422.5,213.65 422.6,214.36 422.7,209.17 422.8,209.89 422.9,210.83 423,212 423.1,207.4 423.2,210.31 423.3,211.45 423.4,211.53 423.5,211.23 423.6,209.47 423.7,209.43 423.8,208.99 423.9,213.29 424,207.62 424.1,209.2 424.2,208.02 424.3,207.92 424.4,208.31 424.5,206.63 424.6,207.22 424.7,206.16 424.8,207.6 424.9,205.57 425,205.92 425.1,205.51 425.2,207.99 425.3,207.61 425.4,202.7 425.5,202.97 425.6,201.64 425.7,202.92 425.8,202.98 425.9,201.74 426,202.97 426.1,201.34 426.2,201.7 426.3,198.65 426.4,202.07 426.5,199.32 426.6,199.77 426.7,201.03 426.8,197.63 426.9,200.99 427,199.52 427.1,199.17 427.2,196.34 427.3,196.11 427.4,197.89 427.5,197 427.6,196.83 427.7,197.76 427.8,196.85 427.9,198.22 428,199.5 428.1,197.61 428.2,197.93 428.3,199.26 428.4,199 428.5,199.82 428.6,200.29 428.7,197.85 428.8,203.06 428.9,200.63 429,201.31 429.1,199.64 429.2,201.3 429.3,201.48 429.4,200.62 429.5,202.09 429.6,200.35 429.7,206.34 429.8,203.5 429.9,204.15 430,204.1 430.1,202.17 430.2,203.18 430.3,198.78 430.4,200.95 430.5,203.04 430.6,201.48 430.7,198.31 430.8,199.1 430.9,202.25 431,198.04 431.1,200.48 431.2,197.35 431.3,201.14 431.4,200.28 431.5,200.58 431.6,198.39 431.7,199.17 431.8,198.62 431.9,196.05 432,197.84 432.1,196.38 432.2,195.27 432.3,195.1 432.4,198.19 432.5,197.47 432.6,195.37 432.7,192.54 432.8,196.2 432.9,196.77 433,195.68 433.1,194.05 433.2,192 433.3,193.7 433.4,192.18 433.5,192.04 433.6,192.81 433.7,191.67 433.8,192.66 433.9,194.1 434,190.6 434.1,193.4 434.2,193.77 434.3,192.87 434.4,190.39 434.5,192.29 434.6,197.17 434.7,194.99 434.8,192.26 434.9,193.63 435,193.7 435.1,194.65 435.2,195.11 435.3,196 435.4,195.14 435.5,193.79 435.6,196.6 435.7,194.24 435.8,196.38 435.9,198.43 436,196.06 436.1,193.5 436.2,197.08 436.3,196.65 436.4,194.13 436.5,196.31 436.6,195.12 436.7,193.07 436.8,194.61 436.9,193.75 437,190.9 437.1,193.65 437.2,190.59 437.3,193.34 437.4,190.14 437.5,192.65 437.6,191.78 437.7,189.02 437.8,191.61 437.9,192.14 438,187.81 438.1,188.34 438.2,187.64 438.3,188.38 438.4,190.61 438.5,188.02 438.6,189.71 438.7,186.91 438.8,188.7 438.9,185.47 439,185.39 439.1,183.11 439.2,186.38 439.3,184.52 439.4,183.65 439.5,182.4 439.6,184.46 439.7,183.64 439.8,181.59 439.9,185.4 440,183.59 440.1,183.58 440.2,186.86 440.3,184.23 440.4,184.45 440.5,184.42 440.6,188.48 440.7,188.72 440.8,187.23 440.9,185.74 441,185.28 441.1,187.15 441.2,186.83 441.3,184.65 441.4,189.01 441.5,186.78 441.6,188.77 441.7,187.32 441.8,187.09 441.9,184.88 442,185.28 442.1,185.32 442.2,185.97 442.3,186.21 442.4,184.97 442.5,183.96 442.6,186.38 442.7,184.49 442.8,184.91 442.9,184.46 443,182.28 443.1,182.34 443.2,184.28 443.3,185.63 443.4,183.11 443.5,181.09 443.6,183.64 443.7,179.04 443.8,179.94 443.9,182.81 444,179.96 444.1,182.57 444.2,177.42 444.3,178.71 444.4,179.9 444.5,179.98 444.6,180.41 444.7,180.24 444.8,179.64 444.9,182.36 445,180.17 445.1,179.58 445.2,181.59 445.3,178.2 445.4,183.59 445.5,183.38 445.6,182.83 445.7,182.2 445.8,180.81 445.9,181.23 446,185.14 446.1,184.56 446.2,185.27 446.3,184.79 446.4,185.26 446.5,182.21 446.6,185.37 446.7,184.74 446.8,185.34 446.9,183.97 447,182.08 447.1,184.11 447.2,181.43 447.3,184.48 447.4,183.28 447.5,181.61 447.6,182.96 447.7,184.59 447.8,180.52 447.9,184.34 448,181.75 448.1,183.06 448.2,181.64 448.3,181.72 448.4,183.5 448.5,180.88 448.6,180.18 448.7,180.48 448.8,181.64 448.9,179.48 449,178.22 449.1,179.06 449.2,179.87 449.3,178.59 449.4,178.84 449.5,176.69 449.6,179.47 449.7,177.61 449.8,177.22 449.9,176.29 450,176.77 450.1,175.33 450.2,174.84 450.3,175.85 450.4,173.82 450.5,173.79 450.6,171.4 450.7,172.73 450.8,170.82 450.9,170.89 451,170.9 451.1,174.45 451.2,172.96 451.3,171.48 451.4,171.14 451.5,172.16 451.6,166.97 451.7,167.92 451.8,169.38 451.9,168.01 452,166.92 452.1,167.93 452.2,169.19 452.3,169.38 452.4,167.55 452.5,167.78 452.6,167.96 452.7,162.86 452.8,167.4 452.9,163.02 453,166.31 453.1,166.34 453.2,166.12 453.3,164.04 453.4,165.5 453.5,165.19 453.6,165.45 453.7,161.36 453.8,162.15 453.9,164.05 454,163.37 454.1,164.88 454.2,164.71 454.3,164.46 454.4,164.97 454.5,164.72 454.6,163.29 454.7,165.55 454.8,163.94 454.9,167.38 455,166.8 455.1,164.32 455.2,165.74 455.3,163.51 455.4,165.94 455.5,168.28 455.6,166.38 455.7,167.66 455.8,167.85 455.9,165.99 456,167.22 456.1,165 456.2,165.42 456.3,162.57 456.4,163.51 456.5,163.84 456.6,164.97 456.7,162.24 456.8,163.91 456.9,161.04 457,162.61 457.1,161.93 457.2,165.13 457.3,161.36 457.4,162.04 457.5,163.38 457.6,160.72 457.7,162.21 457.8,161.16 457.9,159.72 458,159.71 458.1,161.76 458.2,159.5 458.3,161.3 458.4,159.97 458.5,158.42 458.6,160.03 458.7,163.76 458.8,161.12 458.9,160.29 459,162.4 459.1,161.77 459.2,160.7 459.3,163.79 459.4,162.18 459.5,165.98 459.6,166.24 459.7,166.02 459.8,165.48 459.9,164.58 460,166.76 460.1,165.63 460.2,168.82 460.3,165.59 460.4,170.28 460.5,167.43 460.6,166.05 460.7,164.87 460.8,166.94 460.9,166.22 461,166.19 461.1,164.41 461.2,163.2 461.3,163.72 461.4,161.24 461.5,162.31 461.6,160.8 461.7,163.47 461.8,161.75 461.9,159.94 462,159.27 462.1,161.12 462.2,158.08 462.3,158.32 462.4,158.87 462.5,156.37 462.6,158.92 462.7,156.91 462.8,158.38 462.9,155.52 463,159.19 463.1,155.11 463.2,154.28 463.3,151.66 463.4,153.71 463.5,150.9 463.6,152.2 463.7,151.8 463.8,153.29 463.9,151.14 464,150.84 464.1,149.74 464.2,150.03 464.3,149.4 464.4,152.62 464.5,148.27 464.6,147.48 464.7,147.93 464.8,150.16 464.9,145.27 465,149.93 465.1,146.1 465.2,146.43 465.3,146.34 465.4,149.42 465.5,148.12 465.6,149.82 465.7,150.02 465.8,146.79 465.9,150.7 466,151.82 466.1,149.74 466.2,150.07 466.3,152.36 466.4,155.26 466.5,155.48 466.6,156.32 466.7,152.86 466.8,155.41 466.9,154.19 467,156.31 467.1,155.4 467.2,153.03 467.3,156.94 467.4,153.24 467.5,160.15 467.6,160.96 467.7,156.19 467.8,157.36 467.9,157.83 468,158.53 468.1,159.14 468.2,156.04 468.3,157.25 468.4,160.33 468.5,160.01 468.6,158.62 468.7,157.89 468.8,160.7 468.9,159.79 469,162.17 469.1,162.56 469.2,162.29 469.3,161.99 469.4,162.21 469.5,163.37 469.6,161.22 469.7,160.2 469.8,163.75 469.9,163.54 470,163.85 470.1,163.47 470.2,160.57 470.3,168.56 470.4,168.6 470.5,163.99 470.6,166.28 470.7,165.43 470.8,165.21 470.9,164.88 471,165.51 471.1,162.42 471.2,164.03 471.3,163.55 471.4,158.2 471.5,163.76 471.6,162.08 471.7,159.75 471.8,160.23 471.9,160.45 472,158.79 472.1,159.54 472.2,155.21 472.3,158.13 472.4,159.01 472.5,158.01 472.6,156.74 472.7,154.77 472.8,155.58 472.9,153.23 473,154.72 473.1,153.81 473.2,154.35 473.3,155.22 473.4,153.94 473.5,150.95 473.6,150.85 473.7,151.1 473.8,151.19 473.9,151.04 474,155.69 474.1,154.75 474.2,152.01 474.3,153.07 474.4,156.82 474.5,150.53 474.6,153.89 474.7,156.4 474.8,153.72 474.9,152.77 475,155.6 475.1,157.19 475.2,153.63 475.3,155.79 475.4,152.66 475.5,154.6 475.6,155.26 475.7,153.72 475.8,153.71 475.9,155.55 476,156.01 476.1,153.23 476.2,153.99 476.3,155.63 476.4,152.05 476.5,152.18 476.6,153.56 476.7,153.64 476.8,152.2 476.9,151.03 477,153.03 477.1,150.17 477.2,148.43 477.3,145.47 477.4,148.73 477.5,146.62 477.6,146.13 477.7,145.85 477.8,144.08 477.9,145.44 478,143.88 478.1,147.42 478.2,141.82 478.3,143.39 478.4,142.22 478.5,144.4 478.6,142.14 478.7,143.76 478.8,143.92 478.9,144.6 479,141.32 479.1,145.17 479.2,144.63 479.3,146.42 479.4,143.62 479.5,144.79 479.6,143.71 479.7,144.05 479.8,146.43 479.9,146.46 480,145.61 480.1,146.2 480.2,146.63 480.3,147.48 480.4,147.37 480.5,149.34 480.6,146.79 480.7,149.23 480.8,146.68 480.9,148.17 481,147.91 481.1,148.55 481.2,147.35 481.3,149.84 481.4,144.05 481.5,148.29 481.6,147.95 481.7,147.95 481.8,149.33 481.9,148.59 482,144.39 482.1,148.09 482.2,145.64 482.3,146.53 482.4,146.77 482.5,144.73 482.6,143.84 482.7,146.03 482.8,145.92 482.9,144.74 483,144.13 483.1,145.41 483.2,144.85 483.3,145.11 483.4,147.87 483.5,145.88 483.6,146.91 483.7,143.87 483.8,147.11 483.9,144.37 484,144.3 484.1,143.89 484.2,144.04 484.3,140.87 484.4,142.89 484.5,143.61 484.6,144.43 484.7,142.66 484.8,140.68 484.9,139.31 485,141.58 485.1,138.07 485.2,140.27 485.3,140.98 485.4,140.03 485.5,139.18 485.6,136.42 485.7,138.9 485.8,140.25 485.9,137.99 486,137.44 486.1,138.37 486.2,138.51 486.3,138.49 486.4,135.55 486.5,135.82 486.6,136.7 486.7,137.7 486.8,138.26 486.9,135.19 487,137.39 487.1,137.99 487.2,136.38 487.3,135.57 487.4,134.39 487.5,137.42 487.6,135.74 487.7,137.89 487.8,138.33 487.9,133.6 488,134.85 488.1,135.35 488.2,133.88 488.3,134.17 488.4,137.63 488.5,134.37 488.6,136.09 488.7,133.24 488.8,135.49 488.9,135.69 489,136.06 489.1,137.48 489.2,137.86 489.3,136.24 489.4,138.11 489.5,140.44 489.6,138 489.7,143.17 489.8,142.41 489.9,140.13 490,138.02 490.1,138.38 490.2,140.88 490.3,141.31 490.4,141.38 490.5,144.96 490.6,143.33 490.7,142.76 490.8,139.87 490.9,141.72 491,139.99 491.1,139.69 491.2,139.75 491.3,142.85 491.4,135.95 491.5,137.39 491.6,134.47 491.7,137.62 491.8,136.56 491.9,139.03 492,136.17 492.1,133.09 492.2,133.43 492.3,137.98 492.4,131.84 492.5,136.79 492.6,133.93 492.7,134.93 492.8,135.35 492.9,133.49 493,134.13 493.1,135.18 493.2,137.89 493.3,136.29 493.4,134.11 493.5,135.27 493.6,134.1 493.7,135.54 493.8,133.75 493.9,134.79 494,137.96 494.1,133.42 494.2,136.67 494.3,135.27 494.4,136.92 494.5,135.87 494.6,136.21 494.7,136.51 494.8,138.76 494.9,138.43 495,137.35 495.1,139.4 495.2,139.21 495.3,139.3 495.4,139.66 495.5,136.02 495.6,140.77 495.7,136.63 495.8,138.41 495.9,139.83 496,135.84 496.1,139.28 496.2,140.95 496.3,139.89 496.4,140.94 496.5,139.16 496.6,137.81 496.7,140.49 496.8,138.72 496.9,140.27 497,139.6 497.1,140.76 497.2,138.71 497.3,138.83 497.4,142.42 497.5,138.51 497.6,137.75 497.7,139.46 497.8,137.84 497.9,138.73 498,136.76 498.1,136.25 498.2,134.85 498.3,136.86 498.4,134.73 498.5,133.78 498.6,136.43 498.7,129.69 498.8,131.39 498.9,133.13 499,130.15 499.1,129.86 499.2,131.34 499.3,130.05 499.4,130.54 499.5,128.06 499.6,128.52 499.7,127.29 499.8,126.36 499.9,126.47 500,129.19 500.1,124.69 500.2,127.78 500.3,126.75 500.4,128.93 500.5,128.1 500.6,129.62 500.7,129.41 500.8,126.16 500.9,129.76 501,128.49 501.1,129.2 501.2,128.85 501.3,130.12 501.4,132.9 501.5,129.42 501.6,133.08 501.7,128.88 501.8,129.4 501.9,131.86 502,130.21 502.1,131 502.2,130.45 502.3,132.37 502.4,127.79 502.5,128.33 502.6,130.39 502.7,133.91 502.8,128.79 502.9,130.51 503,132.45 503.1,131.1 503.2,133.03 503.3,127.16 503.4,127.85 503.5,126.49 503.6,128.67 503.7,129.83 503.8,128.25 503.9,130.19 504,130.4 504.1,129.12 504.2,131.16 504.3,129.69 504.4,129.63 504.5,132.72 504.6,134.17 504.7,132.93 504.8,130.95 504.9,132.81 505,133.66 505.1,133.22 505.2,132.36 505.3,128.9 505.4,134.17 505.5,133.35 505.6,133.69 505.7,132.85 505.8,130.77 505.9,134 506,136.14 506.1,135.74 506.2,134.03 506.3,134.68 506.4,133.24 506.5,129.98 506.6,132.45 506.7,133.63 506.8,133.46 506.9,129.47 507,129.88 507.1,125.44 507.2,125.6 507.3,127.2 507.4,126.53 507.5,122.7 507.6,123.44 507.7,123.31 507.8,125.36 507.9,123.61 508,123.81 508.1,125.15 508.2,124.05 508.3,121.48 508.4,122.85 508.5,120.89 508.6,122.44 508.7,123.76 508.8,123.05 508.9,122.55 509,121.96 509.1,123.7 509.2,123.7 509.3,125.44 509.4,125.54 509.5,127.13 509.6,127.73 509.7,129.85 509.8,130.98 509.9,129.59 510,129.86 510.1,132.14 510.2,136.28 510.3,135.47 510.4,132 510.5,137.58 510.6,136.08 510.7,137.25 510.8,134.42 510.9,132.8 511,138.47 511.1,137.03 511.2,137.48 511.3,135.66 511.4,132.15 511.5,137.07 511.6,129.35 511.7,132.96 511.8,131.78 511.9,131.33 512,128.54 512.1,129.38 512.2,130.58 512.3,132.92 512.4,128.98 512.5,130.74 512.6,130.87 512.7,131.54 512.8,129.33 512.9,132.06 513,128.63 513.1,131.37 513.2,129.39 513.3,129.37 513.4,129.69 513.5,128.35 513.6,129.31 513.7,131.3 513.8,131.88 513.9,130.73 514,132.51 514.1,128.76 514.2,131.02 514.3,132.28 514.4,132.51 514.5,130.89 514.6,133.89 514.7,130.49 514.8,128.09 514.9,129.88 515,126.82 515.1,130.25 515.2,127.87 515.3,127.36 515.4,128.05 515.5,127.09 515.6,123.87 515.7,123.7 515.8,126.73 515.9,127.71 516,128.38 516.1,127.31 516.2,126.62 516.3,128.2 516.4,126.93 516.5,128.4 516.6,126.23 516.7,128.2 516.8,126.01 516.9,131.81 517,128.48 517.1,130.8 517.2,128.81 517.3,129.62 517.4,130 517.5,128.79 517.6,129.54 517.7,129.91 517.8,131.68 517.9,129.83 518,131.79 518.1,132.47 518.2,130.64 518.3,132.13 518.4,133.12 518.5,133.3 518.6,133.2 518.7,135.36 518.8,131.56 518.9,135.8 519,131.1 519.1,131.41 519.2,133.15 519.3,135.39 519.4,130.48 519.5,129.43 519.6,131.43 519.7,130.51 519.8,133.64 519.9,131.31 520,129.72 520.1,131.43 520.2,131.05 520.3,128.23 520.4,132.99 520.5,130.22 520.6,129.38 520.7,129.07 520.8,130.92 520.9,129.14 521,128.83 521.1,126.6 521.2,127.56 521.3,126.48 521.4,128.46 521.5,128.89 521.6,125.21 521.7,128.43 521.8,126.9 521.9,129.27 522,129.28 522.1,127.85 522.2,129.09 522.3,129.48 522.4,129.52 522.5,131.44 522.6,129.84 522.7,128.25 522.8,129.76 522.9,129.95 523,129.83 523.1,129.76 523.2,130.79 523.3,131.57 523.4,130.91 523.5,128.52 523.6,128.36 523.7,129.46 523.8,128.92 523.9,130.51 524,128.79 524.1,127.2 524.2,126.36 524.3,127.84 524.4,129.19 524.5,126.44 524.6,127.06 524.7,127.02 524.8,126.02 524.9,127.53 525,127.51 525.1,126.52 525.2,124.85 525.3,126.46 525.4,127.11 525.5,127.48 525.6,127.6 525.7,127.97 525.8,127.37 525.9,128.27 526,129.32 526.1,128.11 526.2,129.6 526.3,129.78 526.4,130.45 526.5,129.39 526.6,128.03 526.7,130.61 526.8,132.07 526.9,132.18 527,131.63 527.1,132.48 527.2,130.5 527.3,131.85 527.4,130.38 527.5,130.58 527.6,131.59 527.7,130.89 527.8,130.38 527.9,132.17 528,131.65 528.1,132.94 528.2,130.26 528.3,131.24 528.4,131.22 528.5,131.58 528.6,132.61 528.7,130.81 528.8,133.11 528.9,131.62 529,133.35 529.1,133.77 529.2,134.19 529.3,131.41 529.4,132.12 529.5,133.56 529.6,134.07 529.7,133.01 529.8,134.56 529.9,134.12 530,133.82 530.1,134.08 530.2,136.23 530.3,135.21 530.4,135.26 530.5,137.83 530.6,136.44 530.7,134.82 530.8,135.96 530.9,135.44 531,135.12 531.1,135.57 531.2,132.8 531.3,135.1 531.4,133.67 531.5,135 531.6,134.85 531.7,131.39 531.8,134.37 531.9,134.33 532,133.72 532.1,132.53 532.2,134.34 532.3,133.75 532.4,131.74 532.5,132.63 532.6,133.97 532.7,133.8 532.8,133.82 532.9,132.66 533,134.06 533.1,134.51 533.2,135.08 533.3,133.79 533.4,133.62 533.5,133.81 533.6,133.25 533.7,133.44 533.8,133.51 533.9,133.06 534,133.63 534.1,133.56 534.2,134.24 534.3,133.75 534.4,134.33 534.5,134.48 534.6,134.38 534.7,136.54 534.8,135.23 534.9,132.74 535,133.13 535.1,135.39 535.2,135.59 535.3,134.25 535.4,134.82 535.5,134.59 535.6,134.52 535.7,135.51 535.8,133.8 535.9,134.12 536,135.57 536.1,134.2 536.2,135.01 536.3,135.36 536.4,133.06 536.5,135.83 536.6,135.17 536.7,137.11 536.8,137.76 536.9,133.78 537,135.39 537.1,134.96 537.2,135.33 537.3,134.41 537.4,134.43 537.5,133.64 537.6,134.82 537.7,135.88 537.8,135.7 537.9,137.92 538,136.55 538.1,133.96 538.2,134.74 538.3,136.24 538.4,135.43 538.5,134.83 538.6,133.4 538.7,134.27 538.8,132.01 538.9,135.61 539,134.8 539.1,134.63 539.2,133.66 539.3,132.55 539.4,133.6 539.5,134.3 539.6,135.08 539.7,132.96 539.8,131.79 539.9,133.8 540,134.09 540.1,133.04 540.2,133.7 540.3,134.89 540.4,132.65 540.5,133.63 540.6,133.48 540.7,133.66 540.8,133.19 540.9,133.98 541,132.81 541.1,131.31 541.2,133.19 541.3,133.24 541.4,132.74 541.5,132.43 541.6,133.07 541.7,131.3 541.8,134.08 541.9,132.44 542,132.42 542.1,132.35 542.2,131.27 542.3,132.98 542.4,132.84 542.5,133.6 542.6,132.76 542.7,132.82 542.8,134.49 542.9,132.29 543,132.69 543.1,131.94 543.2,132.26 543.3,132.71 543.4,131.39 543.5,132.76 543.6,133.65 543.7,134.37 543.8,133.96 543.9,135.46 544,134.35 544.1,133.16 544.2,133.7 544.3,135 544.4,135.91 544.5,135.48 544.6,134.99 544.7,136.05 544.8,135.1 544.9,135.2 545,135.86 545.1,135.13 545.2,134.72 545.3,133.9 545.4,134.55 545.5,135.74 545.6,135.43 545.7,137.53 545.8,134.99 545.9,133.82 546,134.8 546.1,135.57 546.2,135.38 546.3,135.99 546.4,136.83 546.5,136.45 546.6,136.41 546.7,137.2 546.8,136.71 546.9,137.94 547,137.43 547.1,137.26 547.2,138.11 547.3,136.87 547.4,137.42 547.5,137.07 547.6,137.8 547.7,137.71 547.8,138.29 547.9,137.72 548,137.85 548.1,139.78 548.2,140.08 548.3,139.65 548.4,138.92 548.5,138 548.6,139.28 548.7,138.94 548.8,138.86 548.9,139.18 549,139.23 549.1,139.56 549.2,139.75 549.3,139.26 549.4,139.01 549.5,139.29 549.6,138.87 549.7,139.19 549.8,139.01 549.9,139.65 550,139.78 550.1,139.27 550.2,139.44 550.3,139.36 550.4,139.43 550.5,139.13 550.6,139.41 550.7,138.88 550.8,139.3 550.9,139.3 551,138.87 551.1,138.96 551.2,138.8 551.3,138.9 551.4,138.87 551.5,138.7 551.6,138.5 551.7,138.76 551.8,138.6 551.9,139.13 552,138.04 552.1,138.89 552.2,138.38 552.3,138.45 552.4,137.97 552.5,137.98 552.6,138.18 552.7,138.06 552.8,137.61 552.9,138.03 553,138.01 553.1,137.82 553.2,138.24 553.3,138.27 553.4,137.64 553.5,137.77 553.6,137.67 553.7,137.87 553.8,138.1 553.9,137.9 554,137.69 554.1,137.56 554.2,138.15 554.3,138.06 554.4,137.79 554.5,137.26 554.6,137.89 554.7,137.62 554.8,137.26 554.9,137.95 555,137.66 555.1,137.2 555.2,137.62 555.3,137.76 555.4,137.74 555.5,138.19 555.6,138.42 555.7,138.09 555.8,138.91 555.9,138.48 556,139.05 556.1,138.74 556.2,139.01 556.3,139.24 556.4,138.73 556.5,139.34 556.6,138.85 556.7,139.19 556.8,139.34 556.9,139.66 557,138.98 557.1,139.66 557.2,139.69 557.3,139.31 557.4,139.38 557.5,139.92 557.6,139.6 557.7,140.19 557.8,139.83 557.9,140.07 558,140.07 558.1,140.37 558.2,140.47 558.3,139.77 558.4,139.82 558.5,140.74 558.6,140.24 558.7,140.73 558.8,140.76 558.9,140.76 559,140.77 559.1,140.93 559.2,140.5 559.3,140.94 559.4,141.08 559.5,141.24 559.6,141.25 559.7,141.05 559.8,141.21 559.9,141.26 560,141.04 560.1,141.34 560.2,141.42 560.3,141.29 560.4,141.49 560.5,141.85 560.6,141.38 560.7,142.31 560.8,141.7 560.9,141.89 561,142.05 561.1,141.9 561.2,141.66 561.3,141.85 561.4,142.16 561.5,142.14 561.6,141.23 561.7,142.61 561.8,142.06 561.9,142.01 562,142.43 562.1,142.08 562.2,142.5 562.3,142.13 562.4,142.43 562.5,142.5 562.6,142.91 562.7,142.95 562.8,142.78 562.9,142.37 563,142.88 563.1,143.37 563.2,143.59 563.3,143.18 563.4,143.66 563.5,143.66 563.6,144.31 563.7,144.36 563.8,144.24 563.9,143.65 564,144.3 564.1,144.36 564.2,144.62 564.3,144.3 564.4,145.21 564.5,145.45 564.6,145.04 564.7,145.15 564.8,145.23 564.9,145.48 565,145.78 565.1,146.14 565.2,145.78 565.3,145.84 565.4,146.34 565.5,145.65 565.6,146.38 565.7,146.47 565.8,146.44 565.9,146.14 566,146.59 566.1,146.66 566.2,147.09 566.3,146.6 566.4,146.93 566.5,146.48 566.6,146.97 566.7,146.96 566.8,146.87 566.9,147.04 567,147.79 567.1,147.44 567.2,147.41 567.3,147.12 567.4,147.39 567.5,147.71 567.6,147.76 567.7,148.22 567.8,147.87 567.9,147.9 568,148.01 568.1,148.13 568.2,148.18 568.3,148.35 568.4,148.6 568.5,148.89 568.6,148.48 568.7,148.3 568.8,148.99 568.9,149.37 569,148.98 569.1,149.3 569.2,148.98 569.3,149.36 569.4,149.27 569.5,149.41 569.6,149.42 569.7,149.58 569.8,149.69 569.9,149.95 570,150.04 570.1,150.39 570.2,150.17 570.3,150.02 570.4,150.33 570.5,150.17 570.6,150.9 570.7,151.03 570.8,150.41 570.9,150.51 571,151.35 571.1,150.97 571.2,151.22 571.3,150.65 571.4,151.75 571.5,152.01 571.6,151.65 571.7,151.35 571.8,152.22 571.9,151.85 572,151.82 572.1,152.59 572.2,151.79 572.3,152.35 572.4,151.88 572.5,152.56 572.6,152.25 572.7,152.13 572.8,153.19 572.9,152.7 573,152.48 573.1,152.39 573.2,152.71 573.3,153.36 573.4,153.08 573.5,152.86 573.6,153.74 573.7,153.05 573.8,153.43 573.9,153.67 574,153.58 574.1,153.76 574.2,153.11 574.3,153 574.4,154.08 574.5,153.7 574.6,154.38 574.7,153.94 574.8,153.84 574.9,154.35 575,154.35 575.1,154.56 575.2,155.11 575.3,154.51 575.4,154.75 575.5,155.22 575.6,154.87 575.7,154.77 575.8,155.21 575.9,155.41 576,154.59 576.1,155.18 576.2,155.65 576.3,155.7 576.4,155.74 576.5,155.66 576.6,155.4 576.7,155.81 576.8,156.45 576.9,156.29"/>
<polyline stroke="#008000" points="80,319.33 80.1,319.91 80.2,316.58 80.3,322.62 80.4,317.13 80.5,318.65 80.6,320.8 80.7,318.01 80.8,318.31 80.9,318.55 81,320.88 81.1,324.02 81.2,320.77 81.3,319.27 81.4,322.27 81.5,320.81 81.6,322.08 81.7,324.34 81.8,321.62 81.9,323.18 82,322.12 82.1,323.62 82.2,324.63 82.3,322.88 82.4,324.03 82.5,324.32 82.6,323.79 82.7,323.03 82.8,322.77 82.9,324.92 83,324.85 83.1,328.97 83.2,321.62 83.3,325.81 83.4,326.34 83.5,328.04 83.6,326.79 83.7,324.75 83.8,326.22 83.9,327.21 84,325.95 84.1,327.81 84.2,323.7 84.3,329.58 84.4,329.27 84.5,326.51 84.6,328.14 84.7,327.35 84.8,326.07 84.9,327.65 85,329.23 85.1,327.14 85.2,327.26 85.3,327.86 85.4,328.79 85.5,329.68 85.6,326.15 85.7,327.51 85.8,326.58 85.9,322.79 86,324.63 86.1,324.62 86.2,324.3 86.3,324.42 86.4,320.17 86.5,323.04 86.6,321.42 86.7,319.93 86.8,322.81 86.9,322.89 87,320.4 87.1,322.53 87.2,320.31 87.3,320.76 87.4,318.64 87.5,322.67 87.6,315.61 87.7,319.46 87.8,320.45 87.9,315.83 88,318.51 88.1,318.43 88.2,319.61 88.3,320.02 88.4,317.12 88.5,315.28 88.6,319.91 88.7,319.9 88.8,317.43 88.9,318.96 89,319.23 89.1,319.75 89.2,319.39 89.3,321.54 89.4,316.74 89.5,321.41 89.6,320.57 89.7,319.84 89.8,322.29 89.9,316.89 90,322.72 90.1,321.7 90.2,319.49 90.3,322.22 90.4,321.27 90.5,326.12 90.6,325.14 90.7,323.13 90.8,321.5 90.9,321.94 91,322.58 91.1,321.96 91.2,321.16 91.3,321.41 91.4,321.67 91.5,321.03 91.6,320.49 91.7,319.88 91.8,325.2 91.9,318.51 92,318.99 92.1,321.06 92.2,319.61 92.3,320.55 92.4,320.91 92.5,321.4 92.6,320.34 92.7,317.29 92.8,320.41 92.9,315.56 93,317.96 93.1,317.09 93.2,315.95 93.3,318.34 93.4,316.85 93.5,318.53 93.6,314.6 93.7,318.4 93.8,317.92 93.9,317.4 94,315 94.1,316.94 94.2,314.94 94.3,314.16 94.4,322.81 94.5,319.19 94.6,320.58 94.7,317.1 94.8,318.98 94.9,319.05 95,318.97 95.1,318.09 95.2,317.79 95.3,314.92 95.4,319.28 95.5,319.06 95.6,320.24 95.7,318.09 95.8,321.39 95.9,317.96 96,316.74 96.1,320.05 96.2,317.6 96.3,316.14 96.4,318.15 96.5,318.96 96.6,317.94 96.7,318.15 96.8,323.72 96.9,318.26 97,319.2 97.1,313.37 97.2,316.93 97.3,317.39 97.4,315.37 97.5,314.35 97.6,316.18 97.7,314.85 97.8,314.2 97.9,316.79 98,316.89 98.1,315.03 98.2,313.62 98.3,314.97 98.4,315.28 98.5,314.76 98.6,311.52 98.7,313.41 98.8,314.62 98.9,315.15 99,315.79 99.1,315.56 99.2,312.64 99.3,313.42 99.4,312.7 99.5,317.64 99.6,315.14 99.7,315.84 99.8,316.7 99.9,314.62 100,313.41 100.1,314.67 100.2,315.21 100.3,317.95 100.4,317.04 100.5,314.01 100.6,316.91 100.7,317.13 100.8,314.35 100.9,315.98 101,313.29 101.1,316.9 101.2,315.99 101.3,314.45 101.4,315.62 101.5,317.24 101.6,316.09 101.7,317.58 101.8,318.1 101.9,315.99 102,316.96 102.1,321.01 102.2,317.9 102.3,316.47 102.4,318.04 102.5,315.92 102.6,320 102.7,318.9 102.8,320.16 102.9,319.99 103,319.29 103.1,320.35 103.2,319.22 103.3,317.97 103.4,317.52 103.5,318.56 103.6,315.39 103.7,322.44 103.8,316.89 103.9,319.64 104,317.77 104.1,316.76 104.2,319.94 104.3,319.66 104.4,319.97 104.5,321.18 104.6,319.39 104.7,321.06 104.8,321.35 104.9,320.07 105,320.23 105.1,321.62 105.2,320.93 105.3,321.17 105.4,317.19 105.5,321.16 105.6,321.74 105.7,321 105.8,321.83 105.9,324.42 106,321.58 106.1,322.58 106.2,320.24 106.3,320.31 106.4,320.98 106.5,320.19 106.6,321.89 106.7,320.6 106.8,322.01 106.9,320.19 107,320.04 107.1,321.8 107.2,321.37 107.3,322.23 107.4,322.5 107.5,323.11 107.6,325.54 107.7,326.26 107.8,325.42 107.9,323.88 108,327.05 108.1,322.4 108.2,321.81 108.3,325.67 108.4,325.44 108.5,325.42 108.6,325.89 108.7,323.41 108.8,324.38 108.9,328.4 109,328.27 109.1,325.67 109.2,330.11 109.3,325.5 109.4,326.5 109.5,328.08 109.6,325.89 109.7,327.22 109.8,327.62 109.9,326.87 110,328.49 110.1,327.65 110.2,324.54 110.3,324.81 110.4,325.79 110.5,324.99 110.6,323.44 110.7,324.98 110.8,325.21 110.9,322.49 111,324.36 111.1,320.11 111.2,319.72 111.3,322.7 111.4,320.16 111.5,319.5 111.6,320.28 111.7,319.22 111.8,320.42 111.9,317.17 112,318.51 112.1,323.76 112.2,318.48 112.3,315.11 112.4,319.29 112.5,319.36 112.6,320.85 112.7,319.02 112.8,317.89 112.9,321.34 113,320.38 113.1,316.51 113.2,320.74 113.3,319.32 113.4,321.63 113.5,319.4 113.6,321.53 113.7,320.86 113.8,321.77 113.9,321.07 114,320.72 114.1,321.76 114.2,322.94 114.3,322.88 114.4,325.07 114.5,323.44 114.6,324.05 114.7,326.68 114.8,323.69 114.9,324.72 115,323.17 115.1,324.48 115.2,327.32 115.3,325.47 115.4,327.57 115.5,323.82 115.6,323.55 115.7,326.56 115.8,324.16 115.9,330.9 116,328.9 116.1,324.48 116.2,325.77 116.3,324.69 116.4,325.85 116.5,324.66 116.6,325.82 116.7,326.25 116.8,323.11 116.9,321.16 117,323.51 117.1,321.92 117.2,323.58 117.3,321.08 117.4,322.22 117.5,321 117.6,319.73 117.7,318.89 117.8,320.32 117.9,322.8 118,320.7 118.1,319.76 118.2,321.71 118.3,321.36 118.4,319.74 118.5,322.89 118.6,325.48 118.7,323.11 118.8,322.42 118.9,325.61 119,328.37 119.1,327.55 119.2,328.29 119.3,330.95 119.4,330.47 119.5,329.62 119.6,328.75 119.7,329.92 119.8,329.63 119.9,330.76 120,327.59 120.1,331.07 120.2,328.43 120.3,327.16 120.4,328.7 120.5,323.68 120.6,325.26 120.7,325.15 120.8,327.11 120.9,324.62 121,327.28 121.1,323.89 121.2,325.03 121.3,322.67 121.4,325.25 121.5,322.59 121.6,323.43 121.7,321.41 121.8,320.06 121.9,321.03 122,322.76 122.1,318.97 122.2,317.75 122.3,319.5 122.4,321.21 122.5,318.25 122.6,319.05 122.7,320.19 122.8,319.34 122.9,320.3 123,321.72 123.1,319.83 123.2,319.67 123.3,320.97 123.4,319.63 123.5,318.18 123.6,318.05 123.7,317.87 123.8,322.69 123.9,319.53 124,320.5 124.1,320.7 124.2,318.03 124.3,320.51 124.4,318.58 124.5,316.12 124.6,319.09 124.7,317.69 124.8,318.91 124.9,320.1 125,323.3 125.1,318.96 125.2,319.59 125.3,320.54 125.4,320.35 125.5,319.9 125.6,318.52 125.7,318.82 125.8,320.16 125.9,318.69 126,319.6 126.1,318.75 126.2,322.65 126.3,318.55 126.4,324.09 126.5,320.22 126.6,319.56 126.7,319.46 126.8,322.7 126.9,323.19 127,320.29 127.1,322.28 127.2,321.61 127.3,321.61 127.4,322.44 127.5,323.62 127.6,319.53 127.7,319.24 127.8,323.33 127.9,323.09 128,324.5 128.1,320.87 128.2,322.22 128.3,326.47 128.4,322.1 128.5,324.98 128.6,323.33 128.7,324.15 128.8,322.8 128.9,327.1 129,322.35 129.1,323.68 129.2,324.34 129.3,327.88 129.4,326.68 129.5,327.49 129.6,326.57 129.7,327.18 129.8,327.59 129.9,329.07 130,326.79 130.1,323.85 130.2,327.84 130.3,325.95 130.4,323.83 130.5,325.12 130.6,323.63 130.7,328.34 130.8,324.25 130.9,321.4 131,324.89 131.1,322.87 131.2,326.06 131.3,324.02 131.4,320.75 131.5,322.6 131.6,321.46 131.7,321.79 131.8,321.77 131.9,319.39 132,322.71 132.1,320.8 132.2,320.57 132.3,323.12 132.4,324.97 132.5,320.95 132.6,324.88 132.7,318.72 132.8,322.93 132.9,321.12 133,321.96 133.1,320.53 133.2,321.18 133.3,321.65 133.4,321.62 133.5,322.86 133.6,325.95 133.7,321.23 133.8,322.02 133.9,319.5 134,318.29 134.1,324.57 134.2,320.24 134.3,321.2 134.4,322.45 134.5,323.9 134.6,322.97 134.7,325.47 134.8,322.18 134.9,319.5 135,322.6 135.1,322.52 135.2,320.96 135.3,321.69 135.4,321.24 135.5,324.9 135.6,321.09 135.7,319.8 135.8,322.42 135.9,319.01 136,322.56 136.1,322.48 136.2,320.42 136.3,320.83 136.4,320.71 136.5,324.21 136.6,322.21 136.7,319.6 136.8,319.48 136.9,321.3 137,321.35 137.1,320.1 137.2,321.74 137.3,321 137.4,323.18 137.5,322.29 137.6,321.57 137.7,322.08 137.8,320.58 137.9,323.54 138,322.88 138.1,321.73 138.2,322.72 138.3,321.81 138.4,326.78 138.5,322.22 138.6,323.9 138.7,323.79 138.8,322.07 138.9,323.49 139,323.1 139.1,324.15 139.2,323.73 139.3,324.11 139.4,323.7 139.5,321.36 139.6,320.74 139.7,320.2 139.8,319.33 139.9,317.48 140,320.8 140.1,319.28 140.2,318.63 140.3,315.88 140.4,315.7 140.5,313.83 140.6,317.44 140.7,318.43 140.8,318.06 140.9,316.74 141,314.89 141.1,316.35 141.2,316.12 141.3,317 141.4,316.85 141.5,314.95 141.6,315.07 141.7,315.99 141.8,315.36 141.9,314.11 142,310.66 142.1,312.82 142.2,314.98 142.3,313.63 142.4,314.67 142.5,312.34 142.6,312.77 142.7,313.67 142.8,313.25 142.9,312.53 143,314.63 143.1,316.01 143.2,317.09 143.3,313.21 143.4,316.06 143.5,317.3 143.6,318.23 143.7,317.18 143.8,322.87 143.9,320.17 144,322.92 144.1,319.9 144.2,322.41 144.3,322.28 144.4,320.67 144.5,322.82 144.6,324.93 144.7,319.19 144.8,318.68 144.9,322.34 145,319.91 145.1,317.98 145.2,315.91 145.3,318.61 145.4,317.25 145.5,318.87 145.6,314.46 145.7,315.05 145.8,314.31 145.9,313.93 146,315.44 146.1,315.56 146.2,313.65 146.3,314.98 146.4,315.22 146.5,317.48 146.6,316.23 146.7,315.18 146.8,316.88 146.9,317.82 147,319.82 147.1,320.86 147.2,321.34 147.3,320.32 147.4,319.37 147.5,321.59 147.6,320.81 147.7,320.58 147.8,322.5 147.9,323.14 148,323.61 148.1,320.51 148.2,319.01 148.3,322.22 148.4,319.59 148.5,322.46 148.6,318.83 148.7,319.39 148.8,317.16 148.9,323.06 149,318.77 149.1,319.1 149.2,318.12 149.3,318.31 149.4,319.75 149.5,318.32 149.6,317.86 149.7,319.51 149.8,315.37 149.9,319.47 150,320.33 150.1,315.68 150.2,318.46 150.3,316.09 150.4,314.9 150.5,317.04 150.6,319.36 150.7,319.86 150.8,318.18 150.9,317.51 151,318.32 151.1,318 151.2,318.26 151.3,315.54 151.4,319.13 151.5,319.45 151.6,323.25 151.7,320.97 151.8,319.79 151.9,320.25 152,320.78 152.1,319.26 152.2,317.17 152.3,319.42 152.4,320.27 152.5,320.86 152.6,319.57 152.7,319.28 152.8,320.38 152.9,320.93 153,321.8 153.1,320.54 153.2,321.67 153.3,319.42 153.4,322.36 153.5,321.01 153.6,318.97 153.7,320.79 153.8,321.32 153.9,319.32 154,322.06 154.1,320.24 154.2,321.37 154.3,318.93 154.4,320.89 154.5,321.43 154.6,319.44 154.7,319.71 154.8,318.98 154.9,320.3 155,319.69 155.1,320.32 155.2,319.29 155.3,317.23 155.4,317.04 155.5,318.29 155.6,319.62 155.7,322.38 155.8,320.03 155.9,317.53 156,315.14 156.1,319.08 156.2,318.16 156.3,316.21 156.4,319.73 156.5,318.46 156.6,317.94 156.7,315.66 156.8,320.45 156.9,319.17 157,318.81 157.1,317.83 157.2,318.93 157.3,321.65 157.4,320.66 157.5,323.18 157.6,321.83 157.7,320.84 157.8,321.87 157.9,320.85 158,318.42 158.1,319.93 158.2,321.58 158.3,319.7 158.4,320.52 158.5,319.51 158.6,324.36 158.7,319.69 158.8,320.08 158.9,320.06 159,322.76 159.1,322.74 159.2,319.78 159.3,321.32 159.4,318.7 159.5,319.86 159.6,323.77 159.7,320.83 159.8,318.98 159.9,316.66 160,318.03 160.1,316.13 160.2,314.47 160.3,318.67 160.4,318.36 160.5,317.48 160.6,318.49 160.7,314.1 160.8,318.89 160.9,314.8 161,317.02 161.1,317.02 161.2,317.9 161.3,319.25 161.4,316.49 161.5,315.2 161.6,313.91 161.7,315.99 161.8,314.09 161.9,313.16 162,314.89 162.1,316.16 162.2,314.47 162.3,313.16 162.4,314.96 162.5,312.62 162.6,312.06 162.7,316.7 162.8,314.63 162.9,317.29 163,311.65 163.1,315.54 163.2,313.48 163.3,317.93 163.4,313.18 163.5,312.69 163.6,313.96 163.7,313.46 163.8,312.62 163.9,315.31 164,315.46 164.1,316.28 164.2,316.01 164.3,314.74 164.4,315.26 164.5,317.83 164.6,315.88 164.7,320.6 164.8,318.44 164.9,317.63 165,321.06 165.1,319.3 165.2,321.18 165.3,319.54 165.4,321.96 165.5,318.45 165.6,315.51 165.7,316.51 165.8,316.25 165.9,319.74 166,321.63 166.1,318.35 166.2,316.47 166.3,319.63 166.4,319.19 166.5,317.79 166.6,318.99 166.7,318.28 166.8,316.36 166.9,319.23 167,317.26 167.1,316.48 167.2,317.56 167.3,320.38 167.4,320.94 167.5,319.97 167.6,316.87 167.7,315.96 167.8,318.08 167.9,317.21 168,317.62 168.1,315.52 168.2,315.85 168.3,315.48 168.4,318.37 168.5,318.77 168.6,315.91 168.7,317.87 168.8,317.94 168.9,315.74 169,316.96 169.1,318.27 169.2,315.36 169.3,319 169.4,316.69 169.5,317.14 169.6,316.67 169.7,314.71 169.8,317.64 169.9,317.11 170,316.48 170.1,316.81 170.2,317.84 170.3,316.96 170.4,316.37 170.5,317.36 170.6,318.46 170.7,317.33 170.8,316.02 170.9,318.64 171,316.85 171.1,318.28 171.2,317.13 171.3,315.87 171.4,315.36 171.5,315.98 171.6,317.07 171.7,313.86 171.8,318.09 171.9,319.26 172,317.15 172.1,315.81 172.2,314.95 172.3,318.02 172.4,318.36 172.5,317.83 172.6,318.9 172.7,316.75 172.8,317.46 172.9,318.34 173,317.58 173.1,318.76 173.2,318.82 173.3,317.63 173.4,316.56 173.5,316.99 173.6,319.94 173.7,316.3 173.8,318.36 173.9,316.71 174,322.04 174.1,317.37 174.2,319.44 174.3,316.92 174.4,323.62 174.5,316.41 174.6,319.16 174.7,316.62 174.8,319.98 174.9,316.7 175,318.04 175.1,316.43 175.2,318.57 175.3,319.44 175.4,322.45 175.5,316.21 175.6,321 175.7,320.42 175.8,319.61 175.9,320.47 176,321.66 176.1,321.21 176.2,321.43 176.3,320.48 176.4,321.31 176.5,322.96 176.6,320.94 176.7,321.81 176.8,322.99 176.9,323.62 177,323.52 177.1,322.38 177.2,319.24 177.3,323.52 177.4,323.7 177.5,323.81 177.6,322.24 177.7,322.85 177.8,320.82 177.9,319.32 178,320.62 178.1,320.3 178.2,322.09 178.3,321.57 178.4,319.26 178.5,319.21 178.6,319.62 178.7,319.6 178.8,321.55 178.9,318.3 179,320.94 179.1,316.46 179.2,317.39 179.3,320.94 179.4,318.7 179.5,319.01 179.6,320.58 179.7,320.07 179.8,321.29 179.9,322.33 180,323.12 180.1,324.12 180.2,323.41 180.3,325.69 180.4,324.77 180.5,327.61 180.6,327.2 180.7,327.44 180.8,327.06 180.9,325.01 181,324.91 181.1,325.11 181.2,325.62 181.3,325.98 181.4,323.97 181.5,322.55 181.6,323.59 181.7,322.74 181.8,323.55 181.9,323.84 182,324.6 182.1,318.45 182.2,319.89 182.3,320.1 182.4,321.03 182.5,320.44 182.6,319.61 182.7,320.88 182.8,318.93 182.9,319.38 183,320.58 183.1,318.56 183.2,322.9 183.3,319.29 183.4,318.9 183.5,321.35 183.6,317.95 183.7,320.46 183.8,321.03 183.9,323.48 184,326.44 184.1,322.01 184.2,319.84 184.3,322.45 184.4,323.24 184.5,320.87 184.6,323.03 184.7,325.14 184.8,323.56 184.9,321.68 185,322.19 185.1,320.77 185.2,322.98 185.3,323.06 185.4,326.48 185.5,322.12 185.6,322.37 185.7,325.48 185.8,326.41 185.9,324.9 186,326.38 186.1,327.43 186.2,327.85 186.3,327.56 186.4,328.13 186.5,325.12 186.6,329.15 186.7,328.4 186.8,327.16 186.9,328.15 187,328.61 187.1,328.51 187.2,329.41 187.3,329.35 187.4,327.96 187.5,333.99 187.6,330.98 187.7,333.69 187.8,329.53 187.9,332.34 188,329.36 188.1,331.86 188.2,330.64 188.3,330.18 188.4,328.49 188.5,328.92 188.6,330.5 188.7,325 188.8,326.88 188.9,325.79 189,326.12 189.1,328.36 189.2,328.51 189.3,326.67 189.4,328.58 189.5,325.41 189.6,325.43 189.7,326.39 189.8,326.63 189.9,325.58 190,323.89 190.1,326.63 190.2,328.57 190.3,325.39 190.4,326.17 190.5,324.49 190.6,326.39 190.7,325.07 190.8,326.93 190.9,329.27 191,327.76 191.1,325.91 191.2,328.48 191.3,324.58 191.4,329.39 191.5,328.07 191.6,326.03 191.7,327.34 191.8,326.54 191.9,331.3 192,329.16 192.1,326.78 192.2,327.45 192.3,328.9 192.4,327.88 192.5,329.29 192.6,329.65 192.7,326.87 192.8,330.29 192.9,332.12 193,330.09 193.1,330.71 193.2,329.03 193.3,329.17 193.4,330.6 193.5,328.85 193.6,327.81 193.7,331.83 193.8,329.46 193.9,330.66 194,330.33 194.1,330.62 194.2,330.75 194.3,330.46 194.4,328.98 194.5,330.57 194.6,328.53 194.7,329.49 194.8,327.76 194.9,328.71 195,327.05 195.1,330.45 195.2,328.58 195.3,326.72 195.4,324.86 195.5,326.38 195.6,329.44 195.7,326.16 195.8,328.57 195.9,326.49 196,326.13 196.1,324.81 196.2,326.76 196.3,328.01 196.4,327.9 196.5,327.79 196.6,325.61 196.7,327.71 196.8,326.04 196.9,326.8 197,329.04 197.1,327.05 197.2,329.81 197.3,328.84 197.4,331.92 197.5,329.67 197.6,331 197.7,332.11 197.8,331.73 197.9,332.12 198,328.64 198.1,333.11 198.2,329.42 198.3,331.2 198.4,328.68 198.5,332.34 198.6,332.1 198.7,333.08 198.8,331.99 198.9,333.17 199,332.16 199.1,332.89 199.2,334.39 199.3,329.5 199.4,332.77 199.5,332.49 199.6,330.15 199.7,331.8 199.8,334.65 199.9,332.84 200,331.25 200.1,333.2 200.2,332.49 200.3,329.76 200.4,331.1 200.5,331.5 200.6,331.48 200.7,331.89 200.8,331.24 200.9,331.19 201,330.15 201.1,330.3 201.2,329.94 201.3,331.46 201.4,330.35 201.5,329.49 201.6,331.51 201.7,334.06 201.8,329.86 201.9,332 202,329.02 202.1,330.11 202.2,331.11 202.3,331.34 202.4,332.84 202.5,328.58 202.6,329.54 202.7,331.63 202.8,331.59 202.9,328.22 203,329.62 203.1,331.29 203.2,331.69 203.3,328.28 203.4,330.41 203.5,326.35 203.6,331.56 203.7,332.8 203.8,328.29 203.9,329.74 204,327.88 204.1,329.46 204.2,331.11 204.3,331.22 204.4,330.99 204.5,328.17 204.6,329.09 204.7,333.47 204.8,330.9 204.9,329.91 205,331.04 205.1,329.76 205.2,331 205.3,329.56 205.4,329.75 205.5,328.38 205.6,333.73 205.7,332.13 205.8,332.03 205.9,332.47 206,330.93 206.1,329.45 206.2,332.05 206.3,332.36 206.4,332.11 206.5,330.63 206.6,328.84 206.7,332.52 206.8,331.91 206.9,331.16 207,330.88 207.1,331.05 207.2,330.36 207.3,328.9 207.4,331.08 207.5,330.56 207.6,331.76 207.7,330.76 207.8,331.71 207.9,329.33 208,331.98 208.1,334.56 208.2,331.1 208.3,332.26 208.4,332.65 208.5,331.82 208.6,331.64 208.7,328.76 208.8,329.95 208.9,333.72 209,331.58 209.1,331.59 209.2,334.36 209.3,328.52 209.4,332.94 209.5,332.3 209.6,328.15 209.7,330.25 209.8,331.94 209.9,330.13 210,330.04 210.1,332.21 210.2,330.92 210.3,331.51 210.4,330.93 210.5,331.38 210.6,331.64 210.7,334.67 210.8,331.77 210.9,329.98 211,331.69 211.1,331.48 211.2,336.34 211.3,328.76 211.4,332.12 211.5,331.41 211.6,333.43 211.7,329.33 211.8,328.98 211.9,331.49 212,332.25 212.1,331.6 212.2,331.89 212.3,330.79 212.4,332.45 212.5,331.03 212.6,330 212.7,333.14 212.8,329.39 212.9,328.19 213,330.1 213.1,330.5 213.2,330.6 213.3,330.2 213.4,331.27 213.5,330.1 213.6,329.24 213.7,332.85 213.8,330.31 213.9,332.3 214,330.8 214.1,331.27 214.2,332.93 214.3,327.46 214.4,332.2 214.5,330.47 214.6,331.73 214.7,329.58 214.8,330.28 214.9,329.99 215,328.44 215.1,330.07 215.2,333.03 215.3,332.14 215.4,332.32 215.5,329.68 215.6,329.73 215.7,329.27 215.8,326.66 215.9,329.53 216,328.69 216.1,331.25 216.2,331.31 216.3,330.49 216.4,328.33 216.5,328.77 216.6,331.84 216.7,330.18 216.8,331.24 216.9,328.88 217,331.11 217.1,329.01 217.2,328.73 217.3,329.9 217.4,328.28 217.5,327.57 217.6,331.61 217.7,330.58 217.8,328.75 217.9,329.5 218,331.38 218.1,328.78 218.2,325.76 218.3,333.28 218.4,327.34 218.5,328.99 218.6,326.24 218.7,326.26 218.8,330.34 218.9,327.75 219,330.89 219.1,329.66 219.2,329.68 219.3,330.96 219.4,331.05 219.5,332.21 219.6,327.86 219.7,328.91 219.8,331.21 219.9,331.39 220,329.34 220.1,328.26 220.2,330.27 220.3,325.5 220.4,327.64 220.5,332.16 220.6,328.33 220.7,333.69 220.8,330.64 220.9,330.92 221,334.83 221.1,331.99 221.2,330.07 221.3,329.7 221.4,329.54 221.5,327.25 221.6,331.13 221.7,330.56 221.8,329.4 221.9,331.89 222,329.5 222.1,327.63 222.2,328.66 222.3,330.32 222.4,330.89 222.5,333.35 222.6,329.7 222.7,331.15 222.8,331.93 222.9,331.25 223,330.74 223.1,328.43 223.2,329.6 223.3,333.68 223.4,330.48 223.5,330.13 223.6,328.3 223.7,330.55 223.8,332.9 223.9,329.16 224,328.63 224.1,329.98 224.2,329.27 224.3,328.99 224.4,333.48 224.5,331.24 224.6,327.7 224.7,329.85 224.8,331.41 224.9,329.44 225,331.19 225.1,328.15 225.2,330.86 225.3,330.02 225.4,331.06 225.5,330.13 225.6,329.24 225.7,330.99 225.8,331.16 225.9,331.53 226,328.37 226.1,329.82 226.2,330.33 226.3,330.3 226.4,330.23 226.5,331.03 226.6,332.88 226.7,333.29 226.8,332.22 226.9,331.06 227,324.8 227.1,328.79 227.2,330.52 227.3,328.02 227.4,331.1 227.5,328.08 227.6,329.22 227.7,328.09 227.8,329.04 227.9,326.14 228,327.77 228.1,326.72 228.2,326.16 228.3,325.13 228.4,329.13 228.5,325.61 228.6,328.83 228.7,327.75 228.8,329 228.9,328.54 229,328.78 229.1,327.14 229.2,333.68 229.3,331.41 229.4,331.62 229.5,326.8 229.6,329.54 229.7,329.76 229.8,331.52 229.9,330.43 230,332.82 230.1,332.28 230.2,333.69 230.3,334.51 230.4,331.69 230.5,332.33 230.6,332.14 230.7,335.23 230.8,334.05 230.9,333.81 231,332.78 231.1,335.13 231.2,334.28 231.3,334.24 231.4,333.24 231.5,331.26 231.6,335.32 231.7,333.08 231.8,333.23 231.9,331.39 232,334.45 232.1,330.76 232.2,331.08 232.3,330.41 232.4,330.28 232.5,333.49 232.6,331.75 232.7,331.07 232.8,332.68 232.9,332.7 233,333.44 233.1,332.69 233.2,334.21 233.3,331.42 233.4,332.83 233.5,335.64 233.6,336.07 233.7,332.12 233.8,335.78 233.9,335.34 234,337.46 234.1,334.18 234.2,336.69 234.3,337.65 234.4,334.46 234.5,335.81 234.6,338.3 234.7,336.94 234.8,338.45 234.9,337.49 235,335.73 235.1,337.32 235.2,337.54 235.3,336.63 235.4,337.93 235.5,336.05 235.6,336.96 235.7,336.76 235.8,336.47 235.9,336.06 236,335.7 236.1,336.09 236.2,336.61 236.3,336.34 236.4,336.53 236.5,336.43 236.6,336.25 236.7,336.58 236.8,336.87 236.9,335.54 237,336.44 237.1,335.36 237.2,337.4 237.3,335.65 237.4,335.89 237.5,336.53 237.6,336.23 237.7,336.46 237.8,336.68 237.9,335.69 238,336.88 238.1,335.4 238.2,335.55 238.3,336.13 238.4,334.32 238.5,335.21 238.6,335.5 238.7,336.14 238.8,335.37 238.9,336.29 239,335.32 239.1,336.49 239.2,336.44 239.3,335.82 239.4,336.01 239.5,336.12 239.6,336.09 239.7,336.05 239.8,337.17 239.9,336.73 240,336.81 240.1,335.79 240.2,336.68 240.3,337.36 240.4,336.9 240.5,336.61 240.6,336.91 240.7,337.47 240.8,337 240.9,336.01 241,336.81 241.1,337.38 241.2,336.51 241.3,337.43 241.4,337.75 241.5,338.78 241.6,338.43 241.7,337.91 241.8,336.79 241.9,337.99 242,337.1 242.1,337.39 242.2,338.64 242.3,337.67 242.4,338.55 242.5,338.36 242.6,338.84 242.7,338.31 242.8,338.4 242.9,339.4 243,339.02 243.1,338.92 243.2,338.8 243.3,339.18 243.4,338.89 243.5,339.37 243.6,339.06 243.7,338.25 243.8,338.35 243.9,338.97 244,340.51 244.1,340.25 244.2,339.36 244.3,339.21 244.4,339.45 244.5,339.68 244.6,340.54 244.7,339.64 244.8,339.21 244.9,339.82 245,339.52 245.1,341.08 245.2,340.25 245.3,340.46 245.4,340.46 245.5,339.49 245.6,340.77 245.7,340.98 245.8,340.56 245.9,341.06 246,340.75 246.1,340.96 246.2,341.53 246.3,340.95 246.4,341.52 246.5,341.37 246.6,341.4 246.7,341.2 246.8,341.16 246.9,341.63 247,342.36 247.1,341.99 247.2,342.52 247.3,341.93 247.4,341.08 247.5,342.62 247.6,341.97 247.7,342.64 247.8,342.48 247.9,342.56 248,342.37 248.1,340.53 248.2,342.64 248.3,342.37 248.4,342.66 248.5,342.77 248.6,342.48 248.7,342.69 248.8,341.56 248.9,342.45 249,342.81 249.1,342.81 249.2,342 249.3,341.5 249.4,342.21 249.5,342.59 249.6,342.75 249.7,343.52 249.8,343.34 249.9,342.28 250,343.06 250.1,342.52 250.2,343.21 250.3,342.43 250.4,343.54 250.5,342.56 250.6,342.69 250.7,342.42 250.8,343.4 250.9,343.02 251,343.25 251.1,343.45 251.2,342.61 251.3,344.01 251.4,343.55 251.5,343.29 251.6,343.19 251.7,343.08 251.8,342.96 251.9,343.78 252,343.41 252.1,343.33 252.2,343.06 252.3,343.49 252.4,344.55 252.5,343.71 252.6,342.39 252.7,342.25 252.8,343.94 252.9,342.82 253,343.76 253.1,343.97 253.2,344.04 253.3,344.78 253.4,343.5 253.5,343.88 253.6,343.45 253.7,343.09 253.8,343.4 253.9,344.65 254,344.68 254.1,343.46 254.2,344.37 254.3,343.86 254.4,344.47 254.5,343.52 254.6,344.2 254.7,344.13 254.8,343.6 254.9,343.8 255,343.86 255.1,344.17 255.2,345.1 255.3,345.09 255.4,345.12 255.5,344.59 255.6,344.82 255.7,343.77 255.8,344.37 255.9,344.98 256,344.59 256.1,344.06 256.2,344.71 256.3,344.59 256.4,344.59 256.5,344.22 256.6,344.91 256.7,344.48 256.8,344.17 256.9,344.62 257,344.96 257.1,345.42 257.2,345.33 257.3,343.75 257.4,345.33 257.5,345.09 257.6,345.06 257.7,345.59 257.8,345.78 257.9,345.24 258,344.84 258.1,344.64 258.2,345.08 258.3,345.2 258.4,344.64 258.5,345.99 258.6,346.07 258.7,345.88 258.8,346.62 258.9,346.24 259,345.73 259.1,346.6 259.2,347.4 259.3,346.33 259.4,345.93 259.5,347.35 259.6,346.04 259.7,346.6 259.8,347.53 259.9,347.29 260,348.63 260.1,347.87 260.2,348.39 260.3,348.83 260.4,348.42 260.5,348.85 260.6,347.74 260.7,350.03 260.8,349.14 260.9,349.12 261,349.09 261.1,349.65 261.2,349.3 261.3,349.84 261.4,349.46 261.5,349.13 261.6,349.59 261.7,349.65 261.8,350.41 261.9,350.37 262,350.11 262.1,350.67 262.2,350.24 262.3,350.66 262.4,350.63 262.5,351.11 262.6,350.5 262.7,351 262.8,351.16 262.9,350.67 263,351.4 263.1,351.45 263.2,352.08 263.3,351.06 263.4,350.97 263.5,350.98 263.6,352.08 263.7,351.77 263.8,351.62 263.9,352.39 264,352.83 264.1,353.49 264.2,353.24 264.3,352.3 264.4,353.55 264.5,352.44 264.6,353.18 264.7,353.47 264.8,352.28 264.9,353.14 265,353.09 265.1,354.21 265.2,352.66 265.3,353.38 265.4,352.85 265.5,352.97 265.6,352.39 265.7,353.41 265.8,353.53 265.9,353.48 266,351.87 266.1,351.76 266.2,352.71 266.3,353.35 266.4,353.15 266.5,352.54 266.6,352.28 266.7,353.55 266.8,353.39 266.9,352.18 267,352.52 267.1,352.48 267.2,353.65 267.3,352.93 267.4,353.23 267.5,352.21 267.6,352.92 267.7,352.78 267.8,353 267.9,353.21 268,353.02 268.1,352.56 268.2,353.85 268.3,352.77 268.4,352.93 268.5,352.43 268.6,353.71 268.7,353.66 268.8,353.3 268.9,353.26 269,353.91 269.1,353.73 269.2,353.4 269.3,354.29 269.4,354.61 269.5,354.39 269.6,354.73 269.7,354.47 269.8,355.26 269.9,354.99 270,354.38 270.1,355.24 270.2,354.91 270.3,354.51 270.4,354.5 270.5,354.78 270.6,353.94 270.7,354.68 270.8,354.9 270.9,354.39 271,354.84 271.1,354.85 271.2,354.62 271.3,355.46 271.4,355.73 271.5,355.88 271.6,356.39 271.7,355.74 271.8,355.65 271.9,355.99 272,356.75 272.1,357.01 272.2,355.91 272.3,356.48 272.4,356.2 272.5,356.63 272.6,355 272.7,356.13 272.8,355.36 272.9,354.69 273,356.65 273.1,355.96 273.2,357.19 273.3,356.95 273.4,357.23 273.5,357.02 273.6,356.33 273.7,356.82 273.8,355.81 273.9,356 274,356.96 274.1,357.7 274.2,356.86 274.3,356.14 274.4,356.75 274.5,357.15 274.6,357.4 274.7,356.95 274.8,357.84 274.9,357.51 275,357.16 275.1,356.77 275.2,358.32 275.3,356.78 275.4,356.87 275.5,356.56 275.6,357.23 275.7,356.15 275.8,357.44 275.9,356.27 276,357.55 276.1,356.41 276.2,356.52 276.3,356.83 276.4,357.37 276.5,357.16 276.6,356.76 276.7,357.24 276.8,357.68 276.9,356.4 277,358.12 277.1,357.43 277.2,356 277.3,357.61 277.4,357.49 277.5,357.44 277.6,357.58 277.7,357.62 277.8,358.36 277.9,358.13 278,358.45 278.1,358.07 278.2,358.99 278.3,358.28 278.4,358.77 278.5,358.44 278.6,358.53 278.7,359.19 278.8,359.25 278.9,358.9 279,359.02 279.1,358.84 279.2,359.47 279.3,359.4 279.4,359.75 279.5,359.48 279.6,359.45 279.7,360 279.8,359.54 279.9,360.11 280,360.35 280.1,360.67 280.2,360.05 280.3,360.19 280.4,360.62 280.5,360.28 280.6,360.6 280.7,360.46 280.8,360.45 280.9,360.17 281,360.72 281.1,360.94 281.2,360.75 281.3,360.47 281.4,360.72 281.5,361.39 281.6,360.56 281.7,360.2 281.8,361.44 281.9,360.26 282,361.32 282.1,360.79 282.2,359.75 282.3,360.37 282.4,360.34 282.5,360.31 282.6,360.29 282.7,360.77 282.8,360.6 282.9,361.13 283,360.26 283.1,360.32 283.2,360.71 283.3,360.29 283.4,360.1 283.5,360.49 283.6,359.76 283.7,359.67 283.8,360.01 283.9,360.54 284,360.68 284.1,359.68 284.2,359.9 284.3,360.36 284.4,360.3 284.5,359.7 284.6,360.6 284.7,359.95 284.8,359.98 284.9,359.57 285,360.4 285.1,360.26 285.2,359.45 285.3,360.12 285.4,359.89 285.5,359.6 285.6,359.1 285.7,359.46 285.8,358.53 285.9,358.5 286,358.51 286.1,358.85 286.2,359.11 286.3,357.3 286.4,358.13 286.5,357.66 286.6,358.09 286.7,356.87 286.8,358.31 286.9,356.82 287,357.65 287.1,355.98 287.2,356.69 287.3,357.31 287.4,357.38 287.5,356.34 287.6,356.58 287.7,356.63 287.8,357.98 287.9,357.18 288,359.25 288.1,358.95 288.2,359.57 288.3,358.78 288.4,359.18 288.5,359.54 288.6,359.01 288.7,359.25 288.8,360.32 288.9,360.27 289,360.68 289.1,360.32 289.2,361.53 289.3,362.17 289.4,361.89 289.5,361.65 289.6,362.6 289.7,362.85 289.8,362.63 289.9,361.92 290,361.29 290.1,363.28 290.2,362.47 290.3,361.95 290.4,361.7 290.5,360.73 290.6,362.52 290.7,361.83 290.8,361.97 290.9,361.68 291,361.63 291.1,361.89 291.2,360.82 291.3,361.11 291.4,361.7 291.5,361.96 291.6,361.49 291.7,361.48 291.8,360.66 291.9,360.71 292,361.15 292.1,361.01 292.2,360.77 292.3,360.8 292.4,359.86 292.5,359.81 292.6,360.95 292.7,360.55 292.8,360.04 292.9,360.57 293,362.25 293.1,359.93 293.2,360.42 293.3,360.11 293.4,359.76 293.5,359.58 293.6,360.58 293.7,359.66 293.8,358.97 293.9,360.87 294,359.53 294.1,360.27 294.2,359.98 294.3,359.62 294.4,360.72 294.5,359.24 294.6,359.89 294.7,359.95 294.8,358.86 294.9,359.19 295,360.08 295.1,360.72 295.2,359.94 295.3,358.27 295.4,360.14 295.5,358.6 295.6,358.98 295.7,359.43 295.8,359.52 295.9,359.31 296,359.23 296.1,360.66 296.2,358.52 296.3,359.45 296.4,359.86 296.5,359.63 296.6,358.32 296.7,359.96 296.8,359.91 296.9,358.69 297,358.75 297.1,359.85 297.2,359.17 297.3,358.49 297.4,359.3 297.5,358.54 297.6,358.39 297.7,357.78 297.8,359.13 297.9,358.44 298,358.33 298.1,358.58 298.2,359.25 298.3,358.74 298.4,359.27 298.5,358.68 298.6,359.47 298.7,359.87 298.8,359.04 298.9,359.11 299,358.33 299.1,359.05 299.2,360.39 299.3,359.94 299.4,358.75 299.5,359.18 299.6,359.49 299.7,359.97 299.8,360.09 299.9,360.12 300,360.46 300.1,360.34 300.2,360.11 300.3,360.67 300.4,359.18 300.5,360.22 300.6,360.76 300.7,361.28 300.8,361.36 300.9,361.85 301,361.89 301.1,361.29 301.2,361.19 301.3,361.35 301.4,360.69 301.5,360.66 301.6,360.96 301.7,360.17 301.8,360.81 301.9,360.78 302,361.37 302.1,359.82 302.2,360.1 302.3,361.04 302.4,359.97 302.5,360.4 302.6,359.77 302.7,360.82 302.8,359.29 302.9,359.67 303,359.45 303.1,360.5 303.2,359.81 303.3,358.71 303.4,360.54 303.5,358.72 303.6,359.61 303.7,359.91 303.8,359.07 303.9,358.96 304,358.61 304.1,358.42 304.2,360.71 304.3,359.87 304.4,359.96 304.5,358.28 304.6,358.92 304.7,358.44 304.8,359.61 304.9,360.18 305,358.8 305.1,358.73 305.2,359.89 305.3,358.47 305.4,359.45 305.5,358.78 305.6,359.48 305.7,358.77 305.8,358.15 305.9,359.11 306,358.16 306.1,359.23 306.2,360.02 306.3,359.66 306.4,358.16 306.5,358.01 306.6,357.46 306.7,358.3 306.8,358.01 306.9,358.29 307,359.91 307.1,359.02 307.2,358.86 307.3,358.39 307.4,358.83 307.5,359.03 307.6,358.79 307.7,359.16 307.8,359.17 307.9,358.24 308,357.99 308.1,359.28 308.2,357.73 308.3,358.68 308.4,358.61 308.5,359.33 308.6,357.98 308.7,357.54 308.8,359.16 308.9,357.8 309,356.95 309.1,357.48 309.2,358.16 309.3,358.83 309.4,358.39 309.5,358.03 309.6,357.6 309.7,358.04 309.8,358.34 309.9,357.51 310,358.04 310.1,358.84 310.2,357.75 310.3,357.66 310.4,357.65 310.5,357.87 310.6,357.36 310.7,358.17 310.8,357.9 310.9,358.01 311,357.36 311.1,358.02 311.2,358.43 311.3,357.41 311.4,357.41 311.5,357.59 311.6,357.31 311.7,357.57 311.8,358.42 311.9,357.99 312,357.69 312.1,357.69 312.2,357.47 312.3,358.5 312.4,357.59 312.5,358.13 312.6,358.21 312.7,357.29 312.8,358.12 312.9,358.55 313,357.15 313.1,357.68 313.2,358.47 313.3,358.33 313.4,358.75 313.5,359.22 313.6,358.64 313.7,358.87 313.8,358.83 313.9,357.43 314,358.32 314.1,358.38 314.2,358.94 314.3,358.1 314.4,358.61 314.5,358.57 314.6,357.48 314.7,357.16 314.8,358.68 314.9,357.56 315,358.51 315.1,357.92 315.2,358.2 315.3,356.69 315.4,358.87 315.5,356.1 315.6,356.81 315.7,357.66 315.8,358.05 315.9,357.75 316,357.8 316.1,356.65 316.2,357.4 316.3,357.87 316.4,356.17 316.5,356.37 316.6,357.05 316.7,357.65 316.8,357.21 316.9,356.16 317,356.38 317.1,356.43 317.2,355.71 317.3,357.62 317.4,355.8 317.5,355.31 317.6,354.27 317.7,354.9 317.8,354.33 317.9,354.63 318,354 318.1,353.03 318.2,353.74 318.3,354.81 318.4,353.66 318.5,354.17 318.6,355.12 318.7,354.71 318.8,355.62 318.9,355.08 319,356.45 319.1,356.35 319.2,355.6 319.3,355.18 319.4,356.02 319.5,355.83 319.6,355.01 319.7,356.28 319.8,355.28 319.9,356.46 320,356.34 320.1,355.69 320.2,355.9 320.3,354.66 320.4,355.41 320.5,355.66 320.6,354.6 320.7,354.45 320.8,356.07 320.9,355.37 321,355.88 321.1,355.6 321.2,353.45 321.3,354.33 321.4,354.82 321.5,354.88 321.6,354.88 321.7,354.38 321.8,354.65 321.9,354.09 322,355.31 322.1,354.02 322.2,354.18 322.3,354.94 322.4,354.09 322.5,354.45 322.6,353.8 322.7,354.23 322.8,354.43 322.9,353.31 323,353.18 323.1,353.41 323.2,354.45 323.3,354.25 323.4,354.36 323.5,354.67 323.6,353.58 323.7,353.35 323.8,353.64 323.9,353.78 324,354.2 324.1,353.62 324.2,353.81 324.3,353.12 324.4,352.52 324.5,354.39 324.6,353.39 324.7,353.05 324.8,353.28 324.9,354.4 325,352.85 325.1,352.82 325.2,352.63 325.3,352.77 325.4,351.86 325.5,353.62 325.6,352.89 325.7,352.36 325.8,353.42 325.9,352.56 326,353.54 326.1,352.59 326.2,352.63 326.3,352.79 326.4,352.91 326.5,352.2 326.6,352.18 326.7,352.59 326.8,351.39 326.9,350.82 327,352.32 327.1,352.41 327.2,352.92 327.3,352.19 327.4,352.84 327.5,352.94 327.6,352.21 327.7,351.76 327.8,351.54 327.9,351.93 328,351.21 328.1,352.08 328.2,352.36 328.3,351.55 328.4,352.38 328.5,351.33 328.6,351.8 328.7,351.86 328.8,350.62 328.9,351.51 329,352.13 329.1,352.23 329.2,352.25 329.3,351.12 329.4,351.56 329.5,350.53 329.6,351.81 329.7,351.37 329.8,351.86 329.9,350.49 330,352.09 330.1,351.22 330.2,350.25 330.3,351.54 330.4,352.41 330.5,351.1 330.6,351.02 330.7,349.66 330.8,350.55 330.9,351.32 331,350.75 331.1,350.38 331.2,349.92 331.3,351.7 331.4,349.89 331.5,349.04 331.6,350.3 331.7,349.85 331.8,349.72 331.9,348.98 332,348.46 332.1,347.81 332.2,348.87 332.3,346.98 332.4,346.58 332.5,346.9 332.6,346.78 332.7,346.07 332.8,345.61 332.9,345.82 333,346.81 333.1,346.88 333.2,347.51 333.3,348.79 333.4,348.56 333.5,349.66 333.6,349.12 333.7,349.77 333.8,350.19 333.9,350.59 334,349.74 334.1,350.02 334.2,352.17 334.3,351.27 334.4,350.87 334.5,350.1 334.6,350.83 334.7,351.96 334.8,352.18 334.9,350.43 335,351.27 335.1,351.7 335.2,351.75 335.3,351.38 335.4,351.26 335.5,351.54 335.6,350.86 335.7,351.48 335.8,351.77 335.9,351.01 336,352.17 336.1,351.94 336.2,350.88 336.3,350.91 336.4,351.41 336.5,351.53 336.6,351.58 336.7,351.4 336.8,351.15 336.9,352.82 337,352.6 337.1,351.61 337.2,351.64 337.3,351.73 337.4,352.06 337.5,351.54 337.6,352.09 337.7,349.94 337.8,350.74 337.9,350.73 338,350.07 338.1,350.89 338.2,350.74 338.3,350.5 338.4,350.39 338.5,351.49 338.6,350.49 338.7,351.45 338.8,350.48 338.9,351.15 339,350.09 339.1,349.79 339.2,351.31 339.3,350.96 339.4,352.58 339.5,351.42 339.6,351.3 339.7,351.18 339.8,350.65 339.9,351.39 340,350.67 340.1,351.32 340.2,350.52 340.3,351.78 340.4,350.97 340.5,350.74 340.6,351.2 340.7,350.53 340.8,349.6 340.9,350.7 341,351.44 341.1,350.28 341.2,351.38 341.3,351.35 341.4,351.15 341.5,349.54 341.6,352.64 341.7,351.73 341.8,350.79 341.9,350.13 342,349.95 342.1,349.54 342.2,350.41 342.3,351.4 342.4,349.73 342.5,350.47 342.6,351.05 342.7,351.14 342.8,350.57 342.9,349.75 343,351.54 343.1,350.52 343.2,350.42 343.3,350.63 343.4,349.37 343.5,349 343.6,348.95 343.7,350.67 343.8,349.85 343.9,348.5 344,348.55 344.1,349.31 344.2,348.3 344.3,348.99 344.4,349.2 344.5,349.12 344.6,349.6 344.7,349.98 344.8,348.77 344.9,348.78 345,349.67 345.1,348.73 345.2,348.54 345.3,348.91 345.4,348.34 345.5,348.07 345.6,348.81 345.7,347.67 345.8,347.74 345.9,347.96 346,348.4 346.1,346.58 346.2,348.5 346.3,348.2 346.4,346.93 346.5,348.4 346.6,347.46 346.7,348.82 346.8,348.04 346.9,348.44 347,347.34 347.1,348.33 347.2,348.2 347.3,349.04 347.4,348.26 347.5,349.11 347.6,350.55 347.7,348.93 347.8,349.83 347.9,348.86 348,349.86 348.1,348.56 348.2,350.37 348.3,349.24 348.4,349.11 348.5,349.24 348.6,349.45 348.7,350.39 348.8,350.1 348.9,350.45 349,350.07 349.1,349.11 349.2,349.14 349.3,349.98 349.4,350.17 349.5,349.74 349.6,349.44 349.7,347.98 349.8,347.01 349.9,349.19 350,348.1 350.1,347.35 350.2,347.79 350.3,348.22 350.4,347.4 350.5,346.79 350.6,347.09 350.7,347.7 350.8,347.51 350.9,345.23 351,347.15 351.1,346.52 351.2,347.14 351.3,344.68 351.4,345.94 351.5,345.5 351.6,345.56 351.7,344.83 351.8,345.15 351.9,344.57 352,345.54 352.1,347.16 352.2,344.92 352.3,344.41 352.4,347.05 352.5,344.41 352.6,344.18 352.7,344.98 352.8,343.58 352.9,344.09 353,343.14 353.1,344.52 353.2,343.52 353.3,343.47 353.4,343.51 353.5,344.6 353.6,343.54 353.7,343.65 353.8,344.19 353.9,344.69 354,341.96 354.1,344.23 354.2,344.27 354.3,344.27 354.4,343.86 354.5,342.81 354.6,343.65 354.7,343.45 354.8,343.42 354.9,343.04 355,342.94 355.1,341.5 355.2,343.26 355.3,343.62 355.4,343.78 355.5,344.08 355.6,343.77 355.7,342.6 355.8,343.28 355.9,342.41 356,343.56 356.1,342.38 356.2,343.72 356.3,341.68 356.4,342.72 356.5,342.58 356.6,341.88 356.7,341.76 356.8,341.68 356.9,342.91 357,341.63 357.1,341.13 357.2,341.09 357.3,342.33 357.4,341.3 357.5,343.16 357.6,343.12 357.7,341.79 357.8,341.13 357.9,342.17 358,340.78 358.1,341.96 358.2,341.51 358.3,341.05 358.4,340.44 358.5,341.06 358.6,340.69 358.7,340.84 358.8,340.45 358.9,341.61 359,339.28 359.1,339.33 359.2,340.63 359.3,340.22 359.4,339.04 359.5,340.36 359.6,339.91 359.7,337.89 359.8,340.95 359.9,339.45 360,339.28 360.1,339.16 360.2,338.37 360.3,338.85 360.4,340.02 360.5,338.8 360.6,339.32 360.7,337.79 360.8,339.33 360.9,338.81 361,339.02 361.1,338.8 361.2,338.71 361.3,338.58 361.4,339.6 361.5,339.57 361.6,338.44 361.7,338.89 361.8,337.96 361.9,337.84 362,338.07 362.1,339.12 362.2,336.31 362.3,337.59 362.4,338.42 362.5,338.42 362.6,337.87 362.7,337.05 362.8,337.81 362.9,337.99 363,337.98 363.1,337.31 363.2,336.63 363.3,337.02 363.4,337.25 363.5,336.34 363.6,336.2 363.7,335.05 363.8,336.76 363.9,335.67 364,333.97 364.1,335.63 364.2,336.22 364.3,333.21 364.4,335.96 364.5,334.57 364.6,334.91 364.7,333.44 364.8,334.36 364.9,333.84 365,334.01 365.1,332.61 365.2,332.64 365.3,331.99 365.4,334.31 365.5,333.22 365.6,332.3 365.7,332.31 365.8,331.39 365.9,331.6 366,331.93 366.1,330.23 366.2,329.97 366.3,330.13 366.4,330.25 366.5,331.57 366.6,330.52 366.7,330.1 366.8,330.77 366.9,330.33 367,329.95 367.1,329.67 367.2,329.53 367.3,327.77 367.4,329.82 367.5,329.29 367.6,329.6 367.7,329.66 367.8,329.18 367.9,329.54 368,328.55 368.1,330.09 368.2,330.01 368.3,329.43 368.4,329.07 368.5,329.62 368.6,328.14 368.7,329.26 368.8,331.6 368.9,329.59 369,329.32 369.1,329.82 369.2,329.31 369.3,328.92 369.4,330.39 369.5,328.6 369.6,329.86 369.7,329.39 369.8,329.26 369.9,329.41 370,328.86 370.1,330.12 370.2,328.81 370.3,330.18 370.4,328.34 370.5,328.26 370.6,327.91 370.7,326.73 370.8,326.64 370.9,329.3 371,327.87 371.1,327.19 371.2,328.69 371.3,327.94 371.4,328.02 371.5,326.73 371.6,326.54 371.7,327.42 371.8,325.62 371.9,324.85 372,326.85 372.1,326.78 372.2,326.81 372.3,326.65 372.4,327.83 372.5,326.49 372.6,327.08 372.7,327.96 372.8,327.58 372.9,328.23 373,327.45 373.1,328.06 373.2,329.39 373.3,328.68 373.4,330.23 373.5,330.4 373.6,328.96 373.7,329.23 373.8,330.43 373.9,330.82 374,331.33 374.1,332.1 374.2,331.36 374.3,333.78 374.4,332.86 374.5,332.93 374.6,333.34 374.7,335.6 374.8,336.75 374.9,335.99 375,336.37 375.1,336.35 375.2,336.08 375.3,337.24 375.4,336.37 375.5,338.05 375.6,340.31 375.7,338.45 375.8,341.1 375.9,339.45 376,339.07 376.1,340.75 376.2,340.85 376.3,341.83 376.4,341.74 376.5,340.53 376.6,341.63 376.7,342.3 376.8,341.82 376.9,343.37 377,343.59 377.1,342.04 377.2,342.58 377.3,342.27 377.4,343.73 377.5,343.86 377.6,341.77 377.7,342.45 377.8,344.04 377.9,342.43 378,343.83 378.1,344.09 378.2,343.49 378.3,345.22 378.4,344.56 378.5,343.56 378.6,344.42 378.7,343.4 378.8,344.15 378.9,344.28 379,343.57 379.1,342.27 379.2,342.02 379.3,343.8 379.4,343.6 379.5,343.73 379.6,343.19 379.7,341.89 379.8,342.16 379.9,343.12 380,344.18 380.1,342.61 380.2,344.51 380.3,341.21 380.4,341.6 380.5,342.31 380.6,343.28 380.7,341.91 380.8,341.91 380.9,341.52 381,342.53 381.1,342.8 381.2,343.16 381.3,341.24 381.4,341.89 381.5,341.08 381.6,342.86 381.7,340.86 381.8,342.01 381.9,341.42 382,339.55 382.1,341.2 382.2,341.35 382.3,339.54 382.4,340.95 382.5,339.97 382.6,340.77 382.7,340.38 382.8,339.16 382.9,339.86 383,339.42 383.1,339.51 383.2,338.56 383.3,339.85 383.4,338.91 383.5,338.91 383.6,337.51 383.7,338.58 383.8,338.22 383.9,337.25 384,338.45 384.1,338.29 384.2,338.81 384.3,338.55 384.4,339.13 384.5,337.49 384.6,339.4 384.7,339.18 384.8,338.57 384.9,338.25 385,337.09 385.1,337.74 385.2,336.49 385.3,337.3 385.4,337.61 385.5,337.94 385.6,338.7 385.7,335.88 385.8,335.89 385.9,336.83 386,336.94 386.1,336.2 386.2,337.13 386.3,337.06 386.4,337.62 386.5,336.59 386.6,337.02 386.7,339.79 386.8,336.64 386.9,337.87 387,337.38 387.1,335.39 387.2,336.21 387.3,335.92 387.4,337.49 387.5,336.61 387.6,336.67 387.7,336.8 387.8,337.97 387.9,336.76 388,336.53 388.1,337.47 388.2,336.66 388.3,337.09 388.4,337.58 388.5,337.62 388.6,337.42 388.7,336.12 388.8,335.47 388.9,337.14 389,338.41 389.1,336.95 389.2,337.13 389.3,337.7 389.4,337.15 389.5,338.42 389.6,338.12 389.7,335.84 389.8,337.46 389.9,337.71 390,337.21 390.1,337.91 390.2,336.87 390.3,337.61 390.4,337.32 390.5,337.42 390.6,338.72 390.7,338.29 390.8,338.31 390.9,338.64 391,339.41 391.1,337.89 391.2,339.25 391.3,339.8 391.4,338.69 391.5,339.11 391.6,339.85 391.7,338.75 391.8,339.42 391.9,338.59 392,340.16 392.1,340.1 392.2,338.93 392.3,338.88 392.4,339.62 392.5,338.88 392.6,338.18 392.7,338.18 392.8,338.59 392.9,337.78 393,337.02 393.1,336.76 393.2,338.3 393.3,336.76 393.4,336.97 393.5,336.38 393.6,336.41 393.7,335.89 393.8,336.89 393.9,333.77 394,336.13 394.1,334.76 394.2,336.13 394.3,336.05 394.4,337.56 394.5,336.93 394.6,337.07 394.7,337.09 394.8,337.11 394.9,337.31 395,338.05 395.1,337.75 395.2,338.47 395.3,338.68 395.4,338.93 395.5,339.41 395.6,340.13 395.7,340 395.8,340.53 395.9,340.3 396,338.65 396.1,339.39 396.2,338.56 396.3,338.27 396.4,338.83 396.5,338.16 396.6,337.86 396.7,338.02 396.8,338.16 396.9,338.07 397,336.32 397.1,337.01 397.2,335.66 397.3,333.9 397.4,334.61 397.5,335.5 397.6,335.97 397.7,335.47 397.8,335.33 397.9,335.03 398,333.35 398.1,335 398.2,335.26 398.3,336.29 398.4,337.56 398.5,338.07 398.6,338.93 398.7,338.1 398.8,338.12 398.9,339.45 399,339.6 399.1,340.96 399.2,339.43 399.3,341.87 399.4,341.85 399.5,341.73 399.6,340.65 399.7,341.17 399.8,340.71 399.9,343.09 400,343.16 400.1,342.15 400.2,344.89 400.3,345.06 400.4,345.67 400.5,346.42 400.6,348.28 400.7,347.84 400.8,348.64 400.9,351.22 401,349.42 401.1,351.4 401.2,352.74 401.3,354.6 401.4,353.87 401.5,352.69 401.6,355.03 401.7,352.8 401.8,353.6 401.9,352.43 402,354.14 402.1,353.49 402.2,351.77 402.3,352.38 402.4,352.74 402.5,353.94 402.6,353.87 402.7,352.63 402.8,353.78 402.9,351.49 403,351.39 403.1,351.75 403.2,351.28 403.3,351.37 403.4,351.34 403.5,352.52 403.6,350.61 403.7,351.4 403.8,351.73 403.9,352.3 404,351.89 404.1,351.52 404.2,351.36 404.3,350.58 404.4,350.32 404.5,350.14 404.6,352.56 404.7,349.13 404.8,350.32 404.9,349.73 405,350.13 405.1,351.43 405.2,348.9 405.3,346.65 405.4,348.12 405.5,349.45 405.6,348.39 405.7,348.95 405.8,348.18 405.9,350.23 406,347.62 406.1,348.51 406.2,350.65 406.3,348.78 406.4,347.98 406.5,349.77 406.6,347.14 406.7,348.9 406.8,347.4 406.9,347.97 407,348.1 407.1,347.07 407.2,346.5 407.3,347.1 407.4,349.18 407.5,346.18 407.6,347.57 407.7,347.27 407.8,348.43 407.9,345.59 408,346.39 408.1,346.17 408.2,344.67 408.3,345.68 408.4,347.15 408.5,346.96 408.6,346.39 408.7,345.07 408.8,346.76 408.9,347.19 409,345.94 409.1,346.8 409.2,345.85 409.3,346.33 409.4,345.53 409.5,344.98 409.6,345.24 409.7,346.32 409.8,345.05 409.9,347.57 410,345.57 410.1,344.76 410.2,344.99 410.3,345.12 410.4,344.09 410.5,345.28 410.6,345.09 410.7,344.44 410.8,346.28 410.9,344.69 411,344.99 411.1,344.27 411.2,345.28 411.3,343.35 411.4,343.87 411.5,344.94 411.6,344.51 411.7,345.49 411.8,343.46 411.9,343.58 412,343.37 412.1,343.03 412.2,342.87 412.3,342.14 412.4,343.7 412.5,342.17 412.6,344.19 412.7,342.64 412.8,341.25 412.9,341.73 413,341.79 413.1,341.49 413.2,340.58 413.3,342.57 413.4,341.11 413.5,341.11 413.6,339.98 413.7,340.2 413.8,341.27 413.9,341.64 414,341.09 414.1,341.93 414.2,341.94 414.3,339.96 414.4,341.78 414.5,341.35 414.6,343.13 414.7,343.13 414.8,341.17 414.9,343.64 415,342.84 415.1,343.75 415.2,344.65 415.3,344.89 415.4,344.55 415.5,345.49 415.6,343.72 415.7,343.25 415.8,340.91 415.9,340.86 416,341.45 416.1,342.3 416.2,341.9 416.3,340.54 416.4,340.54 416.5,340.9 416.6,340.44 416.7,341.35 416.8,341.17 416.9,339.36 417,339.54 417.1,339.78 417.2,338.24 417.3,339.82 417.4,339.79 417.5,337.98 417.6,336.75 417.7,338.45 417.8,337.33 417.9,337.44 418,338.11 418.1,339.14 418.2,338.12 418.3,340.35 418.4,336.92 418.5,337.13 418.6,337.61 418.7,338.32 418.8,339.51 418.9,338.21 419,339.43 419.1,338.43 419.2,336.74 419.3,339.5 419.4,338.98 419.5,339.5 419.6,339.95 419.7,340.23 419.8,339.48 419.9,339.42 420,339.66 420.1,339.82 420.2,340.77 420.3,340.28 420.4,339.88 420.5,338.36 420.6,338.51 420.7,340.46 420.8,339.04 420.9,339.48 421,339.91 421.1,337.46 421.2,338.63 421.3,336.54 421.4,338.36 421.5,338.78 421.6,339.9 421.7,337.56 421.8,336.56 421.9,337.75 422,337.22 422.1,338.29 422.2,336.78 422.3,337.12 422.4,334.37 422.5,336.01 422.6,337.09 422.7,336.26 422.8,335.97 422.9,335.51 423,336.73 423.1,335.1 423.2,336.08 423.3,334.92 423.4,336.7 423.5,336.21 423.6,335.64 423.7,337.53 423.8,336.94 423.9,336.44 424,336.88 424.1,336.49 424.2,335.92 424.3,336.83 424.4,338.07 424.5,336.11 424.6,336.64 424.7,337.7 424.8,336.14 424.9,336.84 425,337.32 425.1,338.42 425.2,337.09 425.3,336.84 425.4,337.63 425.5,339.09 425.6,337.5 425.7,337.35 425.8,338.53 425.9,337.99 426,338.33 426.1,337.39 426.2,337.34 426.3,337.71 426.4,335.5 426.5,337.17 426.6,334.92 426.7,335.48 426.8,337.44 426.9,335.77 427,333.8 427.1,334.09 427.2,333.58 427.3,334.16 427.4,334.37 427.5,333.02 427.6,330.14 427.7,332.49 427.8,332.6 427.9,331.1 428,331.78 428.1,330.77 428.2,332.11 428.3,328.68 428.4,330.17 428.5,330.8 428.6,331.66 428.7,332.06 428.8,332.51 428.9,332.79 429,331.21 429.1,331.29 429.2,332.57 429.3,332.57 429.4,333.12 429.5,331.64 429.6,332.49 429.7,332.21 429.8,334.11 429.9,333.61 430,334 430.1,334.23 430.2,335.29 430.3,332.87 430.4,332.76 430.5,334.41 430.6,334.42 430.7,334.25 430.8,332.57 430.9,333.38 431,334.78 431.1,332.79 431.2,334.75 431.3,333.55 431.4,334.96 431.5,332.69 431.6,333.33 431.7,332.2 431.8,330.74 431.9,332.72 432,331.73 432.1,331.07 432.2,331.87 432.3,332.75 432.4,331.09 432.5,331.19 432.6,331.02 432.7,330.56 432.8,333.18 432.9,329.24 433,332.11 433.1,330.4 433.2,330.47 433.3,329.37 433.4,330.62 433.5,331.91 433.6,331.56 433.7,331.29 433.8,330.77 433.9,330.79 434,331.4 434.1,331.75 434.2,331.97 434.3,332.53 434.4,330.84 434.5,330.98 434.6,332.36 434.7,331.58 434.8,332.74 434.9,331.98 435,331.78 435.1,333.31 435.2,331.67 435.3,333.81 435.4,331.01 435.5,332.95 435.6,333.79 435.7,332.53 435.8,333.79 435.9,332.46 436,331.69 436.1,331.35 436.2,332.31 436.3,332.21 436.4,329.71 436.5,330.39 436.6,329.13 436.7,330.09 436.8,329.66 436.9,330.57 437,330.01 437.1,327.88 437.2,328.08 437.3,327.87 437.4,327.7 437.5,326.84 437.6,327.12 437.7,327.66 437.8,328.05 437.9,326.38 438,327.37 438.1,328.3 438.2,325.27 438.3,325.39 438.4,324.89 438.5,325.84 438.6,326.67 438.7,324.3 438.8,325.26 438.9,324.68 439,324.08 439.1,323.17 439.2,324.09 439.3,323.17 439.4,322.59 439.5,322.13 439.6,322.95 439.7,323.23 439.8,324.17 439.9,323.39 440,324.61 440.1,323.31 440.2,325.57 440.3,326 440.4,325.75 440.5,322.79 440.6,328.53 440.7,323.92 440.8,324.54 440.9,326.3 441,324.52 441.1,326.67 441.2,327.79 441.3,326.35 441.4,325 441.5,326.22 441.6,328 441.7,325.62 441.8,326.64 441.9,324.49 442,325.47 442.1,328.15 442.2,324.53 442.3,325.22 442.4,323.89 442.5,323.45 442.6,325.79 442.7,323.31 442.8,324.45 442.9,321.85 443,321.78 443.1,322.88 443.2,322.46 443.3,322.92 443.4,322.32 443.5,319.71 443.6,321.93 443.7,321.46 443.8,320.76 443.9,320.02 444,320.4 444.1,320.29 444.2,319.18 444.3,319.25 444.4,318.29 444.5,318.87 444.6,318.2 444.7,319.33 444.8,321.09 444.9,318.33 445,315.78 445.1,317.49 445.2,321.03 445.3,318.37 445.4,321.33 445.5,321.25 445.6,320.76 445.7,318.4 445.8,318.4 445.9,318.7 446,319.17 446.1,320.21 446.2,321.69 446.3,321.34 446.4,321.81 446.5,318.61 446.6,321.79 446.7,320.3 446.8,319.91 446.9,319.18 447,319.05 447.1,321.43 447.2,320.07 447.3,320.15 447.4,318.4 447.5,320.79 447.6,319.65 447.7,316.57 447.8,319.04 447.9,318.89 448,318.5 448.1,318.35 448.2,318.24 448.3,318.96 448.4,317.05 448.5,318.66 448.6,319.27 448.7,319.98 448.8,317.91 448.9,318.37 449,319.58 449.1,321.3 449.2,320.08 449.3,321.43 449.4,318.05 449.5,318.5 449.6,320.93 449.7,316.47 449.8,319.1 449.9,320.03 450,317.19 450.1,316.66 450.2,316.89 450.3,315.65 450.4,314.22 450.5,314.26 450.6,315.16 450.7,315.24 450.8,314.72 450.9,312.46 451,314.67 451.1,314.46 451.2,313.1 451.3,313.46 451.4,312.21 451.5,314.88 451.6,314.21 451.7,312.5 451.8,313.08 451.9,311 452,312.35 452.1,315.26 452.2,313.3 452.3,314.08 452.4,313.27 452.5,311.07 452.6,314.03 452.7,312.69 452.8,313.63 452.9,313.65 453,311.6 453.1,308.89 453.2,313.16 453.3,313.87 453.4,313.64 453.5,313.38 453.6,310.98 453.7,310.42 453.8,312.76 453.9,313.35 454,312.43 454.1,313.15 454.2,313.66 454.3,311.71 454.4,313.23 454.5,312.16 454.6,312.86 454.7,312.65 454.8,312.64 454.9,315.7 455,311.11 455.1,311.86 455.2,311.64 455.3,307.63 455.4,310.28 455.5,309.52 455.6,308.38 455.7,308.1 455.8,305.2 455.9,306.22 456,301.88 456.1,304.77 456.2,302.72 456.3,303.84 456.4,306.67 456.5,305.16 456.6,309.35 456.7,309.24 456.8,307.12 456.9,311.68 457,310.17 457.1,310.21 457.2,312.82 457.3,313.8 457.4,313.06 457.5,315.74 457.6,313.66 457.7,314.9 457.8,314.97 457.9,313.76 458,312.61 458.1,311.22 458.2,311.58 458.3,309.57 458.4,312.79 458.5,310.93 458.6,311.23 458.7,307.95 458.8,308.68 458.9,306.39 459,306.3 459.1,305.75 459.2,304.06 459.3,302.13 459.4,304.72 459.5,303.36 459.6,301.95 459.7,302.18 459.8,300.86 459.9,298.85 460,299.5 460.1,300.21 460.2,300.33 460.3,299.34 460.4,300.38 460.5,298.53 460.6,300.7 460.7,298.6 460.8,300.15 460.9,298.84 461,298.01 461.1,299.59 461.2,303.49 461.3,300.99 461.4,302.01 461.5,303.54 461.6,306.32 461.7,305.73 461.8,308.37 461.9,312.1 462,309.26 462.1,312.32 462.2,315.07 462.3,316.62 462.4,315.84 462.5,318.74 462.6,316.22 462.7,316.14 462.8,314.74 462.9,313.38 463,314.72 463.1,314.31 463.2,310.8 463.3,313.35 463.4,310.4 463.5,313.41 463.6,312.43 463.7,310.96 463.8,309.66 463.9,307.01 464,308.27 464.1,306.86 464.2,304.39 464.3,307.87 464.4,306.47 464.5,305 464.6,306.53 464.7,304.48 464.8,305.77 464.9,305.97 465,305.58 465.1,307.25 465.2,306.99 465.3,306.44 465.4,307.73 465.5,311.04 465.6,309.46 465.7,306.64 465.8,308.11 465.9,310.39 466,311.09 466.1,310.35 466.2,313.39 466.3,312.16 466.4,312.23 466.5,314.36 466.6,315 466.7,316.47 466.8,317.44 466.9,317.04 467,315.47 467.1,317.16 467.2,315.71 467.3,312.06 467.4,312.81 467.5,310.92 467.6,310.95 467.7,307.9 467.8,309.75 467.9,306.84 468,304.84 468.1,304.47 468.2,305.65 468.3,302.94 468.4,300.06 468.5,304.07 468.6,301.4 468.7,299.83 468.8,298.3 468.9,298.26 469,297.47 469.1,295.55 469.2,297.21 469.3,297.58 469.4,296.28 469.5,293.58 469.6,296.06 469.7,294.96 469.8,296.68 469.9,298.14 470,298.05 470.1,302.38 470.2,300.99 470.3,302.38 470.4,302.36 470.5,305.38 470.6,304.56 470.7,306.45 470.8,306.74 470.9,307.91 471,309.47 471.1,306.15 471.2,308.44 471.3,309.39 471.4,309.29 471.5,308.26 471.6,310.15 471.7,312.2 471.8,311.16 471.9,312.84 472,312.09 472.1,313.51 472.2,315.62 472.3,314.72 472.4,319.27 472.5,319.14 472.6,322.22 472.7,323.26 472.8,325.38 472.9,325.27 473,326.85 473.1,325.98 473.2,326.52 473.3,328.45 473.4,330.56 473.5,325.79 473.6,328.41 473.7,324.41 473.8,328.25 473.9,328.03 474,329.37 474.1,325.82 474.2,327.67 474.3,326.79 474.4,324.13 474.5,327.29 474.6,326.52 474.7,327.19 474.8,327.52 474.9,326.75 475,327 475.1,326.98 475.2,324.09 475.3,324.81 475.4,322.01 475.5,321.65 475.6,319.57 475.7,319.01 475.8,316.28 475.9,313.61 476,313.65 476.1,312.67 476.2,310.34 476.3,309.04 476.4,308.75 476.5,308 476.6,304.69 476.7,302.4 476.8,304.54 476.9,302.09 477,299.43 477.1,297.91 477.2,300.87 477.3,302.48 477.4,303.14 477.5,304.02 477.6,304.21 477.7,308.81 477.8,310.47 477.9,306.75 478,313.28 478.1,314.04 478.2,313.57 478.3,314.11 478.4,317.73 478.5,318.55 478.6,318.39 478.7,318.14 478.8,322.04 478.9,322.37 479,322.07 479.1,320.93 479.2,321.66 479.3,318.49 479.4,319.28 479.5,321.35 479.6,318.87 479.7,322.22 479.8,321.7 479.9,318.64 480,317.76 480.1,320.56 480.2,320.85 480.3,318.15 480.4,319.61 480.5,319.55 480.6,318.97 480.7,321.59 480.8,319.63 480.9,319.61 481,320.15 481.1,322.35 481.2,321.34 481.3,318.52 481.4,320.54 481.5,323.55 481.6,323.16 481.7,322.85 481.8,323.63 481.9,323.95 482,324.67 482.1,321.56 482.2,320.74 482.3,319.71 482.4,320.37 482.5,319.53 482.6,317.13 482.7,317.69 482.8,317.11 482.9,320.64 483,318.82 483.1,315.87 483.2,318.09 483.3,317.5 483.4,316.86 483.5,315.27 483.6,313.93 483.7,317.63 483.8,314.39 483.9,315.26 484,312.92 484.1,312.39 484.2,315.54 484.3,316.43 484.4,316.01 484.5,318.37 484.6,315.73 484.7,315.68 484.8,318.58 484.9,315.29 485,317.73 485.1,315.54 485.2,315.14 485.3,317.58 485.4,317.73 485.5,318.16 485.6,318.84 485.7,320.4 485.8,320.83 485.9,322.28 486,323.33 486.1,324.05 486.2,324.09 486.3,324.82 486.4,327.69 486.5,328.04 486.6,334.24 486.7,332.93 486.8,334.27 486.9,336.75 487,334.76 487.1,335.86 487.2,335.72 487.3,340.79 487.4,336.26 487.5,334.86 487.6,339.22 487.7,340.03 487.8,338.23 487.9,336.58 488,336.13 488.1,336.42 488.2,337.62 488.3,335.81 488.4,336.51 488.5,337.89 488.6,336.79 488.7,337.08 488.8,336.96 488.9,338.08 489,337.37 489.1,338.24 489.2,337.09 489.3,335.71 489.4,335.18 489.5,337.47 489.6,335.46 489.7,333.67 489.8,335.3 489.9,333.1 490,333.73 490.1,331.85 490.2,332.94 490.3,330.79 490.4,332.28 490.5,331.5 490.6,331.47 490.7,333.31 490.8,332.36 490.9,331.89 491,331.81 491.1,330.97 491.2,332.03 491.3,332.15 491.4,333.42 491.5,331.17 491.6,331.35 491.7,331.92 491.8,331.98 491.9,331.58 492,331 492.1,331.46 492.2,332.44 492.3,331.83 492.4,331.12 492.5,333.03 492.6,331.62 492.7,331.43 492.8,333.46 492.9,332.33 493,331.56 493.1,331.97 493.2,331.87 493.3,331.88 493.4,331.78 493.5,332.59 493.6,334.06 493.7,333.77 493.8,334.27 493.9,335.26 494,336.52 494.1,334.82 494.2,337.24 494.3,335.91 494.4,337.19 494.5,336.56 494.6,336.84 494.7,339.05 494.8,338.48 494.9,339.35 495,337.64 495.1,338.52 495.2,339.18 495.3,338.45 495.4,338.04 495.5,336.77 495.6,337.86 495.7,337.84 495.8,338.22 495.9,336.39 496,336.04 496.1,336.38 496.2,336.99 496.3,336.18 496.4,335.84 496.5,335.74 496.6,335.92 496.7,334.58 496.8,335.79 496.9,334.45 497,336.25 497.1,335.35 497.2,334.57 497.3,334.26 497.4,335.29 497.5,335.43 497.6,335.82 497.7,335.62 497.8,334.21 497.9,336.68 498,336.14 498.1,335.14 498.2,335.14 498.3,336.09 498.4,335.26 498.5,336.45 498.6,336.77 498.7,334.95 498.8,336.04 498.9,335.96 499,337.67 499.1,336.48 499.2,337.91 499.3,337.88 499.4,337.8 499.5,339.21 499.6,340.36 499.7,340.7 499.8,341.3 499.9,342.19 500,344.26 500.1,342.78 500.2,343.45 500.3,344.06 500.4,345.04 500.5,345.13 500.6,346.92 500.7,346.9 500.8,347.33 500.9,348.02 501,349.69 501.1,349.22 501.2,350.47 501.3,350.16 501.4,350.72 501.5,350.05 501.6,350.66 501.7,350.63 501.8,348.33 501.9,348.97 502,348.1 502.1,348.94 502.2,347.71 502.3,347.13 502.4,346.2 502.5,345.63 502.6,345.31 502.7,344.28 502.8,345.02 502.9,344.2 503,344.8 503.1,343.98 503.2,345.4 503.3,343.61 503.4,341.85 503.5,339.79 503.6,342.66 503.7,341.95 503.8,342.19 503.9,341.06 504,341.08 504.1,341.2 504.2,342.92 504.3,339.8 504.4,342.04 504.5,340.19 504.6,340.94 504.7,341.43 504.8,339.73 504.9,341.1 505,340.77 505.1,339.73 505.2,341.57 505.3,339.28 505.4,340.78 505.5,339.72 505.6,339.06 505.7,338.54 505.8,338.21 505.9,338.69 506,339.38 506.1,337.95 506.2,336.88 506.3,337.63 506.4,336.71 506.5,336.21 506.6,335.19 506.7,334.33 506.8,334.77 506.9,335.23 507,333.56 507.1,334.42 507.2,332.78 507.3,334.33 507.4,334.59 507.5,336.11 507.6,336.48 507.7,336.02 507.8,335.94 507.9,336.78 508,337.17 508.1,336.8 508.2,338.2 508.3,337.45 508.4,337.54 508.5,338.66 508.6,339.01 508.7,338.79 508.8,338.55 508.9,338.02 509,336.93 509.1,338.25 509.2,336.14 509.3,335.89 509.4,337.01 509.5,334.81 509.6,334.78 509.7,334.72 509.8,333.81 509.9,333.29 510,332.64 510.1,333.49 510.2,333.3 510.3,331.52 510.4,330.66 510.5,331.7 510.6,330.56 510.7,331.44 510.8,330.84 510.9,331.74 511,329.43 511.1,329.31 511.2,328.71 511.3,328.56 511.4,328.41 511.5,328.52 511.6,329.74 511.7,329.57 511.8,331.03 511.9,330.3 512,331.74 512.1,333.58 512.2,333.71 512.3,334.46 512.4,334.63 512.5,335.94 512.6,337.07 512.7,338.34 512.8,339.73 512.9,338.84 513,340.99 513.1,341.74 513.2,339.89 513.3,341.15 513.4,341.79 513.5,341.17 513.6,341.88 513.7,342.89 513.8,342.56 513.9,342.44 514,341.67 514.1,343.78 514.2,342.36 514.3,342.71 514.4,343.69 514.5,343.12 514.6,343.25 514.7,345.07 514.8,344.17 514.9,343.76 515,343.92 515.1,346.55 515.2,344.18 515.3,346.47 515.4,347.63 515.5,348.85 515.6,350.59 515.7,352.23 515.8,353.13 515.9,352.58 516,354.84 516.1,356.52 516.2,356.36 516.3,358.52 516.4,359.32 516.5,359.48 516.6,362.09 516.7,360.94 516.8,360.43 516.9,359.53 517,360.53 517.1,358.8 517.2,358.12 517.3,356.64 517.4,357.15 517.5,355.47 517.6,354.8 517.7,355.18 517.8,353.79 517.9,354.99 518,352.99 518.1,351.66 518.2,350.96 518.3,350.65 518.4,349.7 518.5,350.09 518.6,346.52 518.7,346.97 518.8,348.45 518.9,346.89 519,345.02 519.1,345.81 519.2,346.33 519.3,344.4 519.4,345.08 519.5,346.77 519.6,344.38 519.7,343.88 519.8,343.52 519.9,343.02 520,342.75 520.1,342.72 520.2,343.01 520.3,341.93 520.4,341.74 520.5,341.63 520.6,340.54 520.7,340.01 520.8,340.29 520.9,340.95 521,340.48 521.1,339.8 521.2,342.86 521.3,344 521.4,343.81 521.5,345.08 521.6,347.27 521.7,346.99 521.8,346.51 521.9,349.23 522,349.14 522.1,350.48 522.2,351.72 522.3,351.53 522.4,352.4 522.5,354.96 522.6,352.52 522.7,352.98 522.8,352.14 522.9,350.89 523,351.62 523.1,351.9 523.2,349.04 523.3,347.9 523.4,350.2 523.5,348.14 523.6,346.14 523.7,346.3 523.8,345.77 523.9,344.79 524,343.74 524.1,343.36 524.2,343.17 524.3,342.18 524.4,340.89 524.5,341.41 524.6,341.09 524.7,339.4 524.8,341.77 524.9,339.74 525,340.98 525.1,338.37 525.2,339.58 525.3,339.53 525.4,339.33 525.5,339.21 525.6,337.12 525.7,336.6 525.8,338.65 525.9,338.25 526,337.74 526.1,336.46 526.2,337.01 526.3,336.62 526.4,336.4 526.5,337.9 526.6,336.36 526.7,335.91 526.8,335.24 526.9,335.97 527,336.92 527.1,336.18 527.2,334.9 527.3,334.67 527.4,335.99 527.5,335.11 527.6,335.34 527.7,334.14 527.8,333.79 527.9,332.72 528,333.79 528.1,330.92 528.2,333.56 528.3,332.2 528.4,330.62 528.5,330.21 528.6,330.91 528.7,331.08 528.8,329.14 528.9,328.86 529,329.5 529.1,328.27 529.2,327.38 529.3,327.15 529.4,327.25 529.5,326.31 529.6,325.33 529.7,325.06 529.8,324.95 529.9,324.25 530,322.97 530.1,323.14 530.2,323.4 530.3,321.32 530.4,322.5 530.5,321.78 530.6,321.57 530.7,320.4 530.8,321.21 530.9,319.61 531,319.4 531.1,319.06 531.2,316.91 531.3,317.72 531.4,318.41 531.5,318.11 531.6,317.36 531.7,316.97 531.8,318.18 531.9,317.6 532,317.51 532.1,316.44 532.2,317.89 532.3,317.17 532.4,316.6 532.5,317.24 532.6,316.68 532.7,316.63 532.8,315.93 532.9,315.83 533,315.11 533.1,315.83 533.2,315.41 533.3,314.87 533.4,314.19 533.5,314.35 533.6,314.5 533.7,315.53 533.8,315.44 533.9,314.78 534,315.03 534.1,315.82 534.2,315.39 534.3,316.41 534.4,316.58 534.5,315.92 534.6,316.46 534.7,316.58 534.8,315.87 534.9,317.4 535,316.53 535.1,317.17 535.2,316 535.3,316.85 535.4,316.15 535.5,315.83 535.6,316.04 535.7,315.78 535.8,314.35 535.9,314.29 536,312.16 536.1,312.05 536.2,313 536.3,314.35 536.4,313.43 536.5,313.53 536.6,313.64 536.7,313.14 536.8,313.36 536.9,312.89 537,314.51 537.1,314.2 537.2,315.69 537.3,315.33 537.4,314.23 537.5,315.2 537.6,314.96 537.7,313.52 537.8,314.19 537.9,313.75 538,314.06 538.1,314.04 538.2,312.83 538.3,314.11 538.4,312.83 538.5,312.35 538.6,312.21 538.7,312.95 538.8,312.57 538.9,311.99 539,312.25 539.1,312.52 539.2,311.15 539.3,312.96 539.4,312.79 539.5,314 539.6,313.59 539.7,315.13 539.8,315.27 539.9,315.39 540,317.17 540.1,316.03 540.2,316.34 540.3,316.24 540.4,316.62 540.5,315.96 540.6,315.89 540.7,315.66 540.8,315.17 540.9,316.16 541,315.63 541.1,315.96 541.2,314.87 541.3,314.01 541.4,315.02 541.5,314.93 541.6,314.4 541.7,313.24 541.8,315.46 541.9,313.86 542,314.93 542.1,314.35 542.2,315.73 542.3,314.75 542.4,314.03 542.5,315.8 542.6,314.24 542.7,314.69 542.8,315.26 542.9,315.38 543,315.02 543.1,316.19 543.2,314.57 543.3,315.04 543.4,315.25 543.5,314.4 543.6,315.01 543.7,314.88 543.8,315.33 543.9,315.75 544,315.64 544.1,315.93 544.2,316.52 544.3,315.76 544.4,315.13 544.5,317.05 544.6,316.5 544.7,315.79 544.8,315.34 544.9,316.62 545,316.52 545.1,314.99 545.2,316.62 545.3,316.49 545.4,316.88 545.5,315.6 545.6,316.56 545.7,317.87 545.8,315.16 545.9,316.51 546,316.76 546.1,317.55 546.2,316.68 546.3,317.74 546.4,319.46 546.5,319.53 546.6,320.22 546.7,321.39 546.8,321.82 546.9,321.16 547,322.93 547.1,320.19 547.2,322.03 547.3,323.55 547.4,322.42 547.5,322.51 547.6,322.93 547.7,322.9 547.8,322.73 547.9,322.82 548,322.78 548.1,322.02 548.2,322.22 548.3,322.8 548.4,322.81 548.5,323.28 548.6,323.03 548.7,322.77 548.8,324.12 548.9,323.64 549,323.29 549.1,323.27 549.2,324.84 549.3,324.14 549.4,322.63 549.5,324.16 549.6,324.89 549.7,323.96 549.8,324.38 549.9,324.35 550,323.8 550.1,324.77 550.2,324.76 550.3,323.46 550.4,325.89 550.5,324.35 550.6,324.25 550.7,326.28 550.8,325.22 550.9,324.28 551,325.01 551.1,325.48 551.2,324.84 551.3,324.67 551.4,325.57 551.5,324.63 551.6,324.95 551.7,324.96 551.8,325.55 551.9,325.5 552,325.19 552.1,324.15 552.2,325.81 552.3,324.98 552.4,327.86 552.5,325.29 552.6,325.7 552.7,324.78 552.8,324 552.9,325.29 553,324.56 553.1,325.76 553.2,326.19 553.3,324.49 553.4,324.21 553.5,325.71 553.6,325.07 553.7,325.96 553.8,324.91 553.9,325.67 554,323.37 554.1,324.85 554.2,323.59 554.3,323.33 554.4,324.16 554.5,323.31 554.6,323.53 554.7,323.18 554.8,323.52 554.9,321.43 555,322.1 555.1,320.21 555.2,322.65 555.3,322.72 555.4,322.48 555.5,321.98 555.6,322.36 555.7,322.38 555.8,321.77 555.9,322.58 556,323.39 556.1,323.07 556.2,322.69 556.3,323.21 556.4,324.15 556.5,322.45 556.6,323.75 556.7,322.82 556.8,323.51 556.9,322.19 557,324.04 557.1,324.2 557.2,322.5 557.3,322.32 557.4,323.02 557.5,324.29 557.6,322.93 557.7,322.9 557.8,322.08 557.9,322.23 558,321.63 558.1,321.89 558.2,320.55 558.3,322.6 558.4,321.66 558.5,322.29 558.6,321.25 558.7,321.55 558.8,321.12 558.9,320.81 559,321.83 559.1,320.85 559.2,321.03 559.3,320.23 559.4,321.62 559.5,320.58 559.6,320.3 559.7,320.2 559.8,321.19 559.9,318.3 560,320.09 560.1,318.12 560.2,320.01 560.3,320.51 560.4,318.67 560.5,318.47 560.6,318.63 560.7,317.84 560.8,318.15 560.9,318.62 561,319.76 561.1,317.11 561.2,318.42 561.3,317.17 561.4,318.78 561.5,318.42 561.6,318.69 561.7,318.03 561.8,318.02 561.9,316.5 562,318.22 562.1,317.47 562.2,318.07 562.3,317.21 562.4,316.53 562.5,316.87 562.6,317.07 562.7,317.22 562.8,316.87 562.9,317.14 563,316.42 563.1,317.01 563.2,317.56 563.3,317.37 563.4,318.52 563.5,318.1 563.6,317.96 563.7,318.27 563.8,316.85 563.9,317.7 564,317.63 564.1,318.19 564.2,317.63 564.3,317.95 564.4,318.89 564.5,318.91 564.6,319.54 564.7,318.88 564.8,319.73 564.9,319.46 565,318.24 565.1,317.65 565.2,317.88 565.3,317.56 565.4,318.41 565.5,317.75 565.6,318.04 565.7,318.81 565.8,318.91 565.9,315.99 566,316.88 566.1,317.11 566.2,318.92 566.3,316.92 566.4,317.62 566.5,316.88 566.6,315.46 566.7,316.37 566.8,316.46 566.9,316.61 567,315.51 567.1,315.17 567.2,312.51 567.3,314.58 567.4,315.22 567.5,315.7 567.6,314.59 567.7,314.2 567.8,314.46 567.9,313 568,312.4 568.1,310.55 568.2,311.72 568.3,312.81 568.4,311.89 568.5,310.02 568.6,307.84 568.7,306.82 568.8,304.58 568.9,303.82 569,301.61 569.1,304.01 569.2,306.08 569.3,307.04 569.4,308.25 569.5,310.86 569.6,312.95 569.7,311.78 569.8,313.87 569.9,315.2 570,315 570.1,317.15 570.2,315.94 570.3,317.28 570.4,314.97 570.5,314.9 570.6,316.86 570.7,315.45 570.8,317.15 570.9,316.16 571,316.97 571.1,317.31 571.2,317.28 571.3,316.73 571.4,316.83 571.5,316.09 571.6,316.43 571.7,316.88 571.8,317.14 571.9,316.16 572,317.64 572.1,314.77 572.2,315.67 572.3,316.02 572.4,314.83 572.5,314.08 572.6,314.47 572.7,314.39 572.8,313.75 572.9,314.74 573,314.48 573.1,314.38 573.2,315.48 573.3,315.13 573.4,315.6 573.5,314.54 573.6,315.61 573.7,316.46 573.8,317.57 573.9,316 574,315.87 574.1,316.86 574.2,317.03 574.3,317.76 574.4,316.67 574.5,318.07 574.6,317.71 574.7,317.69 574.8,317.47 574.9,317.5 575,318.07 575.1,317.1 575.2,317.62 575.3,317.11 575.4,315.96 575.5,317.54 575.6,317.72 575.7,316.53 575.8,317.56 575.9,317.44 576,316.58 576.1,316.71 576.2,317.28 576.3,318.13 576.4,316.9 576.5,317.37 576.6,318.39 576.7,316.55 576.8,318.57 576.9,315.95"/>
</g>
<g stroke="#000" stroke-width="1.11" fill="none" stroke-linecap="square">
<path d="M80.5,58.5H576.5V427.5H80.5Z"/>
<path d="M80.5,56.5V60.5M80.5,425.5V429.5" stroke-linecap="butt"/>
<path d="M163.5,56.5V60.5M163.5,425.5V429.5" stroke-linecap="butt"/>
<path d="M245.5,56.5V60.5M245.5,425.5V429.5" stroke-linecap="butt"/>
<path d="M328.5,56.5V60.5M328.5,425.5V429.5" stroke-linecap="butt"/>
<path d="M411.5,56.5V60.5M411.5,425.5V429.5" stroke-linecap="butt"/>
<path d="M493.5,56.5V60.5M493.5,425.5V429.5" stroke-linecap="butt"/>
<path d="M75.5,390.5H80.5" stroke-linecap="butt"/>
<path d="M75.5,312.5H80.5" stroke-linecap="butt"/>
<path d="M75.5,235.5H80.5" stroke-linecap="butt"/>
<path d="M75.5,157.5H80.5" stroke-linecap="butt"/>
<path d="M75.5,79.5H80.5" stroke-linecap="butt"/>
</g>
<g fill="#000" font-family="Liberation Sans, sans-serif">
<text x="77.66 89.54 104.76 117.44 128.82 140.73 146.27 159.11 170.5 175.62 180.67 192.13 197.31 208.55 219.61 225.04 233.7 244.96 259.51 271.23 277.86 283.41 296.38 301.98 308.61 313.9 325.93 337.17 348.23 354.07 368.14 379.46 394.26 405.45 416.63 421.81 433.57 439.73 445.17 453.89 465.62 482.76 494.01 505.73 511.9 524.32 530.86 542.73 549.26" y="24" font-size="19.1">AO&amp;SS Building Tower Air and Dewpoint Temperature</text>
<text x="267.87 279.61 290.62 302.29 313.5 320.36 331.55 342.75 349.51 360.74" y="44" font-size="19.1">2025-09-12</text>
<text x="76.44" y="445" font-size="14.6">0</text>
<text x="158.68" y="445" font-size="14.6">4</text>
<text x="241.41" y="445" font-size="14.6">8</text>
<text x="319.75 328.52" y="445" font-size="14.6">12</text>
<text x="401.75 410.71" y="445" font-size="14.6">16</text>
<text x="484.15 493.09" y="445" font-size="14.6">20</text>
<text x="52.75 61.7" y="395.23" font-size="14.6">10</text>
<text x="52.75 61.65" y="317.58" font-size="14.6">15</text>
<text x="53.15 62.09" y="239.94" font-size="14.6">20</text>
<text x="53.15 62.03" y="162.29" font-size="14.6">25</text>
<text x="53.32 62.05" y="84.64" font-size="14.6">30</text>
<text x="287.73 296.38 300.66 313.68 321.94 326.22 331.63 341.73 349.19 360.09" y="466.1" font-size="14.6">Time (UTC)</text>
<text transform="rotate(-90)" x="-366.23 -356.29 -352.04 -346.98 -342.94 -333.61 -324.97 -316.36 -311.89 -300.99 -292.33 -280.92 -272.29 -263.67 -259.74 -250.7 -245.86 -241.7 -235.12 -226.14 -212.92 -204.24 -195.29 -190.56 -180.95 -175.8 -166.67 -161.62 -153.36 -149.07 -142.93 -136.99 -126.09" y="43" font-size="14.6">Air and Dewpoint Temperature (°C)</text>
</g></svg>
</body></html>
